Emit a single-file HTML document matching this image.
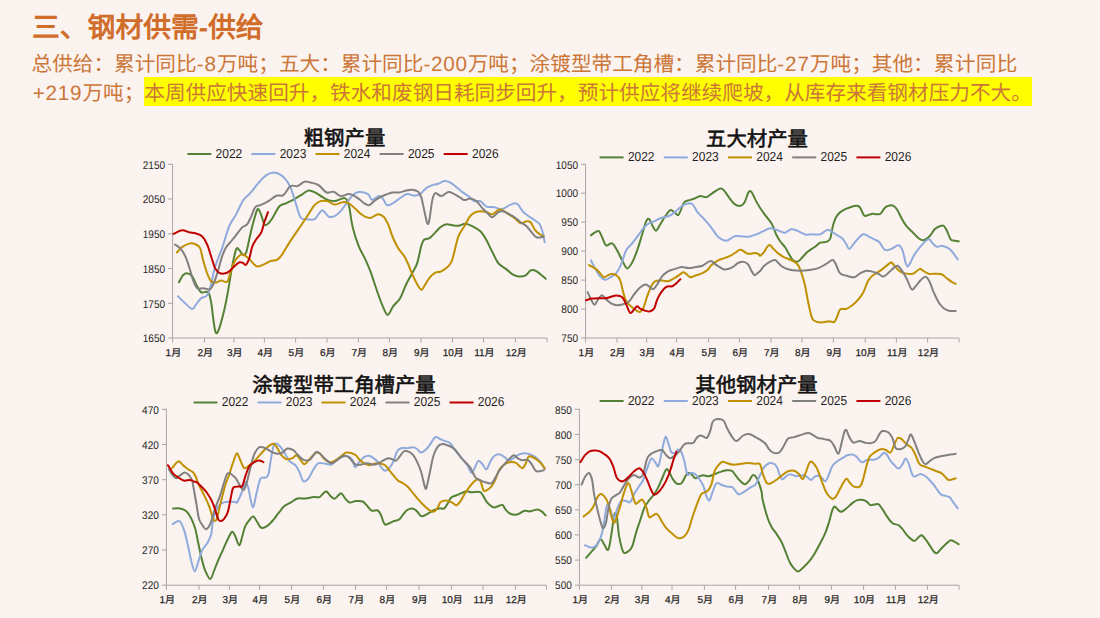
<!DOCTYPE html>
<html lang="zh-CN"><head><meta charset="utf-8"><style>
html,body{margin:0;padding:0}
body{width:1100px;height:618px;overflow:hidden;background:#FBF3EF;position:relative;font-family:"Liberation Sans",sans-serif;text-rendering:geometricPrecision}
.h1{position:absolute;left:32px;top:7.6px;font-size:27.8px;font-weight:bold;color:#D16D2B;white-space:nowrap;line-height:40px}
.p{position:absolute;left:31.5px;top:49.8px;font-size:20.65px;color:#CC7638;white-space:nowrap;line-height:29.4px}
.n1{letter-spacing:1px}.n2{letter-spacing:0.75px}.n3{letter-spacing:0.9px}.n5{letter-spacing:0.35px}.n4{letter-spacing:0.8px;margin-left:1.2px}
.hl{background:#FFFF00;padding:5.2px 0 1.0px 0}
svg{position:absolute;left:0;top:0}
.yl{font-size:11px;fill:#262626;font-family:"Liberation Sans",sans-serif}
.xl{font-size:10px;fill:#262626;stroke:#262626;stroke-width:0.25px;font-family:"Liberation Sans",sans-serif}
.lg{font-size:13px;fill:#1E1E1E;font-family:"Liberation Sans",sans-serif}
.ct{font-size:20.4px;font-weight:normal;fill:#111;stroke:#111;stroke-width:0.6px;font-family:"Liberation Serif",serif}
</style></head><body>
<div class="h1">三、钢材供需-供给</div>
<div class="p">总供给：累计同比<span class="n1">-8</span>万吨；五大：累计同比<span class="n2">-200</span>万吨；涂镀型带工角槽：累计同比<span class="n3">-27</span>万吨；其他：<span class="n5">累计同比</span><br><span class="n4">+219</span>万吨；<span class="hl">本周供应快速回升，铁水和废钢日耗同步回升，预计供应将继续爬坡，从库存来看钢材压力不大。</span></div>
<svg width="1100" height="618" viewBox="0 0 1100 618">
<path d="M172.6,163.8V338.0H547.0" fill="none" stroke="#A6A6A6" stroke-width="1"/>
<path d="M168.1,164.3H172.6" stroke="#A6A6A6" stroke-width="1"/>
<text x="165.1" y="168.5" class="yl" text-anchor="end" textLength="22.4" lengthAdjust="spacingAndGlyphs">2150</text>
<path d="M168.1,199.0H172.6" stroke="#A6A6A6" stroke-width="1"/>
<text x="165.1" y="203.2" class="yl" text-anchor="end" textLength="22.4" lengthAdjust="spacingAndGlyphs">2050</text>
<path d="M168.1,233.8H172.6" stroke="#A6A6A6" stroke-width="1"/>
<text x="165.1" y="238.0" class="yl" text-anchor="end" textLength="22.4" lengthAdjust="spacingAndGlyphs">1950</text>
<path d="M168.1,268.5H172.6" stroke="#A6A6A6" stroke-width="1"/>
<text x="165.1" y="272.7" class="yl" text-anchor="end" textLength="22.4" lengthAdjust="spacingAndGlyphs">1850</text>
<path d="M168.1,303.3H172.6" stroke="#A6A6A6" stroke-width="1"/>
<text x="165.1" y="307.5" class="yl" text-anchor="end" textLength="22.4" lengthAdjust="spacingAndGlyphs">1750</text>
<path d="M168.1,338.0H172.6" stroke="#A6A6A6" stroke-width="1"/>
<text x="165.1" y="342.2" class="yl" text-anchor="end" textLength="22.4" lengthAdjust="spacingAndGlyphs">1650</text>
<path d="M172.6,338.0V342.5" stroke="#A6A6A6" stroke-width="1"/>
<text x="173.4" y="355.8" class="xl" text-anchor="middle">1月</text>
<path d="M204.4,338.0V342.5" stroke="#A6A6A6" stroke-width="1"/>
<text x="205.2" y="355.8" class="xl" text-anchor="middle">2月</text>
<path d="M234.0,338.0V342.5" stroke="#A6A6A6" stroke-width="1"/>
<text x="234.8" y="355.8" class="xl" text-anchor="middle">3月</text>
<path d="M264.4,338.0V342.5" stroke="#A6A6A6" stroke-width="1"/>
<text x="265.2" y="355.8" class="xl" text-anchor="middle">4月</text>
<path d="M295.6,338.0V342.5" stroke="#A6A6A6" stroke-width="1"/>
<text x="296.4" y="355.8" class="xl" text-anchor="middle">5月</text>
<path d="M327.0,338.0V342.5" stroke="#A6A6A6" stroke-width="1"/>
<text x="327.8" y="355.8" class="xl" text-anchor="middle">6月</text>
<path d="M358.4,338.0V342.5" stroke="#A6A6A6" stroke-width="1"/>
<text x="359.2" y="355.8" class="xl" text-anchor="middle">7月</text>
<path d="M389.4,338.0V342.5" stroke="#A6A6A6" stroke-width="1"/>
<text x="390.2" y="355.8" class="xl" text-anchor="middle">8月</text>
<path d="M421.0,338.0V342.5" stroke="#A6A6A6" stroke-width="1"/>
<text x="421.8" y="355.8" class="xl" text-anchor="middle">9月</text>
<path d="M452.4,338.0V342.5" stroke="#A6A6A6" stroke-width="1"/>
<text x="453.2" y="355.8" class="xl" text-anchor="middle">10月</text>
<path d="M483.6,338.0V342.5" stroke="#A6A6A6" stroke-width="1"/>
<text x="484.4" y="355.8" class="xl" text-anchor="middle">11月</text>
<path d="M515.4,338.0V342.5" stroke="#A6A6A6" stroke-width="1"/>
<text x="516.2" y="355.8" class="xl" text-anchor="middle">12月</text>
<path d="M547.0,338.0V342.5" stroke="#A6A6A6" stroke-width="1"/>
<text x="344.5" y="145.0" class="ct" text-anchor="middle">粗钢产量</text>
<path d="M187.3,154.0H211.3" stroke="#548235" stroke-width="2"/>
<text x="215.6" y="157.9" class="lg" textLength="26.6" lengthAdjust="spacingAndGlyphs">2022</text>
<path d="M251.4,154.0H275.4" stroke="#8FAADC" stroke-width="2"/>
<text x="279.7" y="157.9" class="lg" textLength="26.6" lengthAdjust="spacingAndGlyphs">2023</text>
<path d="M315.5,154.0H339.5" stroke="#BF9000" stroke-width="2"/>
<text x="343.8" y="157.9" class="lg" textLength="26.6" lengthAdjust="spacingAndGlyphs">2024</text>
<path d="M379.6,154.0H403.6" stroke="#808080" stroke-width="2"/>
<text x="407.9" y="157.9" class="lg" textLength="26.6" lengthAdjust="spacingAndGlyphs">2025</text>
<path d="M443.7,154.0H467.7" stroke="#C00000" stroke-width="2"/>
<text x="472.0" y="157.9" class="lg" textLength="26.6" lengthAdjust="spacingAndGlyphs">2026</text>
<path d="M179.0,282.2 C179.7,281.0 181.7,276.7 183.0,275.2 C184.4,273.7 185.6,273.0 187.1,273.2 C188.6,273.3 190.6,274.3 192.1,276.2 C193.6,278.0 194.6,281.5 196.1,284.2 C197.6,286.9 199.1,290.9 201.1,292.2 C203.1,293.6 206.5,290.6 208.1,292.2 C209.8,293.9 210.3,297.9 211.1,302.3 C212.0,306.6 212.4,313.2 213.2,318.3 C213.9,323.4 214.8,331.1 215.8,332.8 C216.8,334.4 217.8,332.1 219.2,328.4 C220.6,324.6 222.7,316.6 224.2,310.3 C225.7,303.9 226.9,297.6 228.2,290.2 C229.5,282.9 230.9,273.0 232.2,266.1 C233.6,259.3 235.1,251.7 236.2,249.1 C237.4,246.4 238.1,249.1 239.3,250.1 C240.4,251.1 242.1,254.8 243.3,255.1 C244.4,255.4 245.3,254.8 246.3,252.1 C247.3,249.4 248.3,243.3 249.3,239.0 C250.3,234.7 251.1,230.7 252.3,226.2 C253.5,221.8 255.3,215.0 256.3,212.2 C257.3,209.3 257.5,208.7 258.3,209.2 C259.2,209.7 260.3,212.7 261.3,215.2 C262.3,217.7 263.3,222.7 264.3,224.2 C265.3,225.7 266.0,225.2 267.4,224.2 C268.7,223.2 270.4,221.2 272.4,218.2 C274.4,215.2 277.1,208.7 279.4,206.2 C281.7,203.7 283.9,204.3 286.4,203.2 C288.9,202.0 291.8,200.6 294.5,199.1 C297.1,197.6 300.1,195.6 302.5,194.1 C304.8,192.7 306.5,190.8 308.5,190.5 C310.5,190.2 312.2,191.0 314.5,192.1 C316.9,193.2 320.2,195.8 322.6,197.1 C324.9,198.5 326.6,199.5 328.6,200.1 C330.6,200.8 332.6,201.3 334.6,201.1 C336.6,201.0 338.9,199.6 340.6,199.1 C342.3,198.6 343.5,197.8 344.6,198.1 C345.8,198.5 346.8,199.3 347.6,201.1 C348.5,203.0 348.8,204.8 349.7,209.2 C350.5,213.5 351.2,221.1 352.7,227.2 C354.2,233.4 356.7,240.9 358.7,246.1 C360.7,251.2 362.7,253.8 364.7,258.1 C366.7,262.5 368.7,266.8 370.7,272.2 C372.7,277.5 374.7,284.5 376.8,290.2 C378.8,295.9 380.9,302.2 382.8,306.3 C384.6,310.4 386.0,314.9 387.7,314.9 C389.4,314.9 391.0,309.1 393.1,306.3 C395.2,303.5 398.0,301.9 400.1,298.2 C402.3,294.6 404.2,288.4 406.2,284.2 C408.2,280.0 410.3,276.7 412.2,273.2 C414.0,269.6 415.7,267.6 417.2,263.1 C418.7,258.6 420.1,250.0 421.2,246.1 C422.4,242.1 422.7,241.0 424.2,239.6 C425.7,238.2 427.6,239.7 430.3,237.6 C432.9,235.6 437.6,229.5 440.3,227.2 C443.0,225.0 444.3,224.6 446.3,224.2 C448.3,223.9 450.3,225.0 452.3,225.2 C454.3,225.5 456.2,226.1 458.4,225.8 C460.5,225.6 463.0,223.8 465.4,223.8 C467.7,223.9 469.9,225.0 472.4,226.2 C474.9,227.5 478.1,228.9 480.4,231.3 C482.8,233.6 484.5,236.8 486.5,240.3 C488.5,243.8 490.5,248.5 492.5,252.3 C494.5,256.2 496.2,260.5 498.5,263.4 C500.8,266.2 504.2,267.6 506.5,269.4 C508.9,271.2 510.5,273.2 512.6,274.4 C514.6,275.6 516.4,276.3 518.6,276.4 C520.8,276.6 523.6,276.4 525.6,275.4 C527.6,274.4 528.8,271.1 530.6,270.4 C532.5,269.7 534.1,270.0 536.6,271.4 C539.2,272.8 544.2,277.6 545.7,278.8" fill="none" stroke="#548235" stroke-width="2.0" stroke-linejoin="round" stroke-linecap="round"/>
<path d="M178.0,296.2 C179.0,297.2 181.7,300.2 184.1,302.3 C186.4,304.4 190.1,308.6 192.1,308.9 C194.1,309.2 194.6,306.0 196.1,304.3 C197.6,302.5 199.3,299.8 201.1,298.2 C203.0,296.7 205.5,297.6 207.1,295.2 C208.8,292.9 210.0,288.4 211.1,284.2 C212.3,280.0 213.0,274.5 214.2,270.1 C215.3,265.8 216.8,261.8 218.2,258.1 C219.5,254.4 220.3,253.4 222.2,248.1 C224.0,242.8 226.9,231.9 229.2,226.2 C231.6,220.6 233.9,218.5 236.2,214.2 C238.6,209.8 240.9,203.7 243.3,200.1 C245.6,196.6 247.8,196.0 250.3,193.1 C252.8,190.3 255.6,186.1 258.3,183.1 C261.0,180.1 263.8,176.8 266.4,175.1 C268.9,173.3 271.2,172.6 273.4,172.4 C275.6,172.3 277.4,172.9 279.4,174.1 C281.4,175.2 283.6,176.9 285.4,179.1 C287.3,181.2 288.8,183.3 290.4,187.1 C292.1,190.9 293.8,197.1 295.5,202.2 C297.1,207.2 298.6,214.4 300.5,217.2 C302.3,220.1 304.2,218.9 306.5,219.2 C308.8,219.5 312.5,220.1 314.5,219.2 C316.5,218.4 317.2,215.7 318.5,214.2 C319.9,212.7 320.9,209.8 322.6,210.2 C324.2,210.6 326.6,215.6 328.6,216.6 C330.6,217.6 332.6,217.1 334.6,216.2 C336.6,215.3 338.6,213.4 340.6,211.2 C342.6,209.0 344.6,205.8 346.6,203.2 C348.6,200.5 350.7,197.0 352.7,195.1 C354.7,193.3 356.1,192.3 358.7,192.1 C361.2,191.9 365.8,192.9 368.0,194.1 C370.3,195.4 370.2,199.4 372.0,199.7 C373.9,200.1 377.2,196.2 379.1,196.1 C380.9,196.0 381.7,197.6 383.1,199.1 C384.4,200.6 385.4,204.5 387.1,205.2 C388.8,205.8 390.9,204.3 393.1,203.2 C395.3,202.0 397.8,199.6 400.1,198.1 C402.5,196.6 404.8,194.5 407.2,194.1 C409.5,193.7 412.0,195.7 414.2,195.7 C416.4,195.7 418.2,195.4 420.2,194.1 C422.2,192.9 424.2,189.6 426.2,188.1 C428.2,186.6 430.3,185.8 432.3,185.1 C434.3,184.4 436.3,184.4 438.3,183.7 C440.3,183.0 442.3,181.3 444.3,181.1 C446.3,180.9 448.3,181.5 450.3,182.5 C452.3,183.5 454.3,185.5 456.4,187.1 C458.4,188.7 460.4,190.6 462.4,192.1 C464.4,193.6 466.4,194.6 468.4,196.1 C470.4,197.6 472.4,200.3 474.4,201.1 C476.4,202.0 478.4,200.2 480.4,201.1 C482.4,202.1 484.1,205.6 486.5,206.6 C488.8,207.6 492.1,206.7 494.5,207.2 C496.8,207.6 498.8,209.0 500.5,209.2 C502.2,209.3 502.9,208.9 504.5,208.2 C506.2,207.4 508.7,205.4 510.5,204.6 C512.4,203.7 514.2,203.1 515.6,203.2 C516.9,203.3 517.4,203.8 518.6,205.2 C519.7,206.5 520.9,209.3 522.6,211.2 C524.3,213.0 526.6,214.7 528.6,216.2 C530.6,217.7 532.8,218.9 534.6,220.2 C536.5,221.6 538.3,222.2 539.7,224.2 C541.0,226.2 541.8,229.3 542.7,232.3 C543.5,235.3 544.3,240.6 544.7,242.3" fill="none" stroke="#8FAADC" stroke-width="2.0" stroke-linejoin="round" stroke-linecap="round"/>
<path d="M177.0,252.5 C177.9,251.6 180.0,248.5 182.0,247.1 C184.1,245.6 186.9,244.2 189.1,243.6 C191.2,243.1 193.3,243.3 195.1,244.1 C196.9,244.8 198.8,245.4 200.1,248.1 C201.4,250.7 201.9,255.9 203.1,260.1 C204.3,264.3 205.8,269.6 207.1,273.2 C208.5,276.7 209.6,279.6 211.1,281.2 C212.7,282.8 214.5,282.7 216.2,282.6 C217.8,282.5 219.3,280.7 221.2,280.6 C223.0,280.5 225.7,283.0 227.2,281.8 C228.7,280.6 229.0,276.4 230.2,273.2 C231.4,269.9 232.7,265.0 234.2,262.1 C235.7,259.2 237.7,257.0 239.3,255.7 C240.8,254.4 241.6,253.9 243.3,254.5 C244.9,255.1 247.1,257.2 249.3,259.1 C251.5,261.0 254.1,265.1 256.3,266.1 C258.5,267.1 260.0,266.0 262.3,265.1 C264.7,264.3 267.9,262.0 270.4,261.1 C272.9,260.2 275.4,260.9 277.4,259.7 C279.4,258.5 280.6,256.7 282.4,254.1 C284.2,251.5 285.4,248.7 288.4,244.1 C291.4,239.4 297.1,231.2 300.5,226.2 C303.8,221.3 306.2,217.7 308.5,214.2 C310.8,210.7 312.5,207.3 314.5,205.2 C316.5,203.0 318.4,201.8 320.5,201.1 C322.7,200.5 325.2,200.6 327.6,201.1 C329.9,201.7 332.1,204.4 334.6,204.6 C337.1,204.7 340.3,202.4 342.6,202.2 C345.0,201.9 346.6,202.2 348.6,203.2 C350.7,204.2 352.8,206.5 354.7,208.2 C356.6,209.8 358.3,211.8 360.0,213.2 C361.7,214.6 363.2,215.8 365.0,216.6 C366.9,217.4 368.9,218.2 371.0,217.8 C373.2,217.4 375.9,214.3 378.1,214.2 C380.2,214.1 382.4,215.5 384.1,217.2 C385.8,218.9 386.6,220.8 388.1,224.2 C389.6,227.7 391.4,234.1 393.1,238.0 C394.8,242.0 396.3,245.1 398.1,248.1 C400.0,251.1 402.5,253.4 404.2,256.1 C405.8,258.8 406.8,261.1 408.2,264.1 C409.5,267.1 410.7,270.8 412.2,274.2 C413.7,277.5 415.7,281.6 417.2,284.2 C418.7,286.8 420.1,289.5 421.2,289.8 C422.4,290.2 422.9,288.1 424.2,286.2 C425.6,284.3 427.4,280.5 429.3,278.2 C431.1,275.9 433.4,273.6 435.3,272.6 C437.1,271.5 438.5,272.5 440.3,271.8 C442.1,271.0 444.5,269.7 446.3,268.1 C448.2,266.5 450.0,264.8 451.3,262.1 C452.7,259.4 453.2,256.4 454.3,252.1 C455.5,247.8 456.7,240.6 458.4,236.3 C460.0,232.0 462.5,229.4 464.4,226.2 C466.2,223.1 467.7,219.5 469.4,217.2 C471.1,214.9 472.6,213.6 474.4,212.6 C476.3,211.6 478.4,211.3 480.4,211.2 C482.4,211.1 484.5,211.7 486.5,212.2 C488.5,212.7 490.5,214.6 492.5,214.2 C494.5,213.8 496.8,210.5 498.5,209.8 C500.2,209.1 500.8,209.4 502.5,210.2 C504.2,210.9 506.5,212.9 508.5,214.2 C510.5,215.5 512.6,216.7 514.6,218.2 C516.6,219.7 518.6,222.7 520.6,223.2 C522.6,223.7 524.9,221.4 526.6,221.2 C528.3,221.1 529.3,220.9 530.6,222.2 C532.0,223.6 533.1,227.2 534.6,229.3 C536.1,231.3 538.1,233.1 539.7,234.3 C541.2,235.4 543.0,235.9 543.7,236.3" fill="none" stroke="#BF9000" stroke-width="2.0" stroke-linejoin="round" stroke-linecap="round"/>
<path d="M175.0,244.5 C176.0,245.2 179.2,246.8 181.0,249.1 C182.9,251.3 184.6,254.6 186.1,258.1 C187.6,261.6 188.9,266.5 190.1,270.1 C191.2,273.8 191.9,277.2 193.1,280.2 C194.3,283.2 195.4,286.9 197.1,288.2 C198.8,289.5 200.9,288.0 203.1,288.2 C205.3,288.4 208.3,290.2 210.1,289.2 C212.0,288.2 212.8,285.4 214.2,282.2 C215.5,279.0 216.8,274.5 218.2,270.1 C219.5,265.8 220.9,259.9 222.2,256.1 C223.5,252.2 224.5,249.7 226.2,247.1 C227.9,244.4 230.2,242.5 232.2,240.0 C234.2,237.6 236.6,234.4 238.2,232.3 C239.9,230.1 240.8,228.6 242.3,227.2 C243.8,225.9 245.8,226.1 247.3,224.2 C248.8,222.4 250.0,219.0 251.3,216.2 C252.6,213.4 253.8,209.0 255.3,207.2 C256.8,205.3 258.2,206.2 260.3,205.2 C262.5,204.2 265.7,202.7 268.4,201.1 C271.0,199.6 273.9,196.7 276.4,195.7 C278.9,194.7 281.1,196.7 283.4,195.1 C285.8,193.5 288.1,187.6 290.4,186.1 C292.8,184.6 295.1,186.8 297.5,186.1 C299.8,185.4 302.3,182.3 304.5,181.7 C306.7,181.1 308.2,181.9 310.5,182.5 C312.9,183.1 315.9,183.4 318.5,185.1 C321.2,186.8 324.1,191.4 326.6,192.5 C329.1,193.6 331.3,191.1 333.6,191.7 C335.9,192.3 338.1,195.7 340.6,196.1 C343.1,196.5 346.3,194.1 348.6,194.1 C351.0,194.1 352.8,195.2 354.7,196.1 C356.6,197.1 358.4,198.6 360.0,199.7 C361.6,200.9 362.5,202.3 364.0,203.2 C365.5,204.1 367.4,205.5 369.0,205.2 C370.7,204.8 372.2,202.5 374.1,201.1 C375.9,199.8 378.1,198.2 380.1,197.1 C382.1,196.0 384.1,195.3 386.1,194.5 C388.1,193.8 389.9,192.9 392.1,192.5 C394.3,192.2 396.8,192.9 399.1,192.5 C401.5,192.2 404.0,191.0 406.2,190.5 C408.3,190.0 410.2,189.5 412.2,189.7 C414.2,189.9 416.7,190.5 418.2,191.7 C419.7,193.0 420.2,194.1 421.2,197.1 C422.2,200.2 423.2,205.8 424.2,210.2 C425.2,214.5 426.4,221.6 427.2,223.2 C428.1,224.9 428.4,224.1 429.3,220.2 C430.1,216.4 431.3,204.7 432.3,200.1 C433.3,195.6 433.8,193.8 435.3,193.1 C436.8,192.5 439.1,196.3 441.3,196.1 C443.5,196.0 446.1,192.5 448.3,192.1 C450.5,191.8 452.3,193.2 454.3,194.1 C456.4,195.1 458.7,196.7 460.4,197.7 C462.0,198.7 462.7,200.0 464.4,200.1 C466.1,200.3 468.4,198.4 470.4,198.5 C472.4,198.7 474.4,199.5 476.4,201.1 C478.4,202.8 480.4,206.0 482.4,208.2 C484.5,210.3 486.8,212.7 488.5,214.2 C490.1,215.7 490.8,217.5 492.5,217.2 C494.2,216.9 496.8,213.2 498.5,212.2 C500.2,211.2 500.8,210.9 502.5,211.2 C504.2,211.5 506.5,212.8 508.5,213.8 C510.5,214.8 512.6,215.8 514.6,217.2 C516.6,218.6 518.6,220.7 520.6,222.2 C522.6,223.7 524.8,224.6 526.6,226.2 C528.4,227.9 530.0,230.4 531.6,232.3 C533.3,234.1 534.6,236.5 536.6,237.3 C538.6,238.0 542.5,236.8 543.7,236.7" fill="none" stroke="#808080" stroke-width="2.0" stroke-linejoin="round" stroke-linecap="round"/>
<path d="M173.6,233.9 C175.0,233.3 179.5,230.5 182.0,230.3 C184.6,230.0 186.7,231.7 189.1,232.3 C191.4,232.8 193.9,232.8 196.1,233.5 C198.3,234.1 200.3,234.5 202.1,236.3 C204.0,238.1 205.6,241.0 207.1,244.3 C208.6,247.7 209.8,252.3 211.1,256.4 C212.5,260.4 213.8,265.7 215.2,268.4 C216.5,271.1 217.7,271.9 219.2,272.8 C220.7,273.7 222.5,273.8 224.2,273.6 C225.9,273.4 227.5,272.6 229.2,271.4 C230.9,270.2 232.6,267.9 234.2,266.4 C235.9,264.9 237.8,263.0 239.3,262.4 C240.7,261.8 241.6,262.4 242.7,262.8 C243.8,263.2 244.8,265.5 245.9,264.8 C247.0,264.0 248.2,261.4 249.3,258.4 C250.4,255.3 251.1,249.5 252.3,246.3 C253.5,243.1 254.8,241.6 256.3,239.3 C257.8,236.9 260.0,235.1 261.3,232.3 C262.7,229.4 263.2,225.6 264.3,222.2 C265.4,218.9 267.4,213.9 268.0,212.2" fill="none" stroke="#C00000" stroke-width="2.0" stroke-linejoin="round" stroke-linecap="round"/>
<path d="M585.6,163.8V338.0H959.0" fill="none" stroke="#A6A6A6" stroke-width="1"/>
<path d="M581.1,164.3H585.6" stroke="#A6A6A6" stroke-width="1"/>
<text x="578.1" y="168.5" class="yl" text-anchor="end" textLength="22.4" lengthAdjust="spacingAndGlyphs">1050</text>
<path d="M581.1,193.2H585.6" stroke="#A6A6A6" stroke-width="1"/>
<text x="578.1" y="197.4" class="yl" text-anchor="end" textLength="22.4" lengthAdjust="spacingAndGlyphs">1000</text>
<path d="M581.1,222.2H585.6" stroke="#A6A6A6" stroke-width="1"/>
<text x="578.1" y="226.4" class="yl" text-anchor="end" textLength="16.8" lengthAdjust="spacingAndGlyphs">950</text>
<path d="M581.1,251.1H585.6" stroke="#A6A6A6" stroke-width="1"/>
<text x="578.1" y="255.3" class="yl" text-anchor="end" textLength="16.8" lengthAdjust="spacingAndGlyphs">900</text>
<path d="M581.1,280.1H585.6" stroke="#A6A6A6" stroke-width="1"/>
<text x="578.1" y="284.3" class="yl" text-anchor="end" textLength="16.8" lengthAdjust="spacingAndGlyphs">850</text>
<path d="M581.1,309.1H585.6" stroke="#A6A6A6" stroke-width="1"/>
<text x="578.1" y="313.2" class="yl" text-anchor="end" textLength="16.8" lengthAdjust="spacingAndGlyphs">800</text>
<path d="M581.1,338.0H585.6" stroke="#A6A6A6" stroke-width="1"/>
<text x="578.1" y="342.2" class="yl" text-anchor="end" textLength="16.8" lengthAdjust="spacingAndGlyphs">750</text>
<path d="M585.6,338.0V342.5" stroke="#A6A6A6" stroke-width="1"/>
<text x="586.4" y="355.8" class="xl" text-anchor="middle">1月</text>
<path d="M617.0,338.0V342.5" stroke="#A6A6A6" stroke-width="1"/>
<text x="617.8" y="355.8" class="xl" text-anchor="middle">2月</text>
<path d="M646.6,338.0V342.5" stroke="#A6A6A6" stroke-width="1"/>
<text x="647.4" y="355.8" class="xl" text-anchor="middle">3月</text>
<path d="M676.6,338.0V342.5" stroke="#A6A6A6" stroke-width="1"/>
<text x="677.4" y="355.8" class="xl" text-anchor="middle">4月</text>
<path d="M708.6,338.0V342.5" stroke="#A6A6A6" stroke-width="1"/>
<text x="709.4" y="355.8" class="xl" text-anchor="middle">5月</text>
<path d="M739.4,338.0V342.5" stroke="#A6A6A6" stroke-width="1"/>
<text x="740.2" y="355.8" class="xl" text-anchor="middle">6月</text>
<path d="M771.0,338.0V342.5" stroke="#A6A6A6" stroke-width="1"/>
<text x="771.8" y="355.8" class="xl" text-anchor="middle">7月</text>
<path d="M802.0,338.0V342.5" stroke="#A6A6A6" stroke-width="1"/>
<text x="802.8" y="355.8" class="xl" text-anchor="middle">8月</text>
<path d="M833.4,338.0V342.5" stroke="#A6A6A6" stroke-width="1"/>
<text x="834.2" y="355.8" class="xl" text-anchor="middle">9月</text>
<path d="M865.2,338.0V342.5" stroke="#A6A6A6" stroke-width="1"/>
<text x="866.0" y="355.8" class="xl" text-anchor="middle">10月</text>
<path d="M896.4,338.0V342.5" stroke="#A6A6A6" stroke-width="1"/>
<text x="897.2" y="355.8" class="xl" text-anchor="middle">11月</text>
<path d="M927.6,338.0V342.5" stroke="#A6A6A6" stroke-width="1"/>
<text x="928.4" y="355.8" class="xl" text-anchor="middle">12月</text>
<path d="M959.0,338.0V342.5" stroke="#A6A6A6" stroke-width="1"/>
<text x="757.0" y="145.5" class="ct" text-anchor="middle">五大材产量</text>
<path d="M599.6,157.4H623.6" stroke="#548235" stroke-width="2"/>
<text x="627.9" y="161.3" class="lg" textLength="26.6" lengthAdjust="spacingAndGlyphs">2022</text>
<path d="M663.8,157.4H687.8" stroke="#8FAADC" stroke-width="2"/>
<text x="692.1" y="161.3" class="lg" textLength="26.6" lengthAdjust="spacingAndGlyphs">2023</text>
<path d="M728.0,157.4H752.0" stroke="#BF9000" stroke-width="2"/>
<text x="756.3" y="161.3" class="lg" textLength="26.6" lengthAdjust="spacingAndGlyphs">2024</text>
<path d="M792.2,157.4H816.2" stroke="#808080" stroke-width="2"/>
<text x="820.5" y="161.3" class="lg" textLength="26.6" lengthAdjust="spacingAndGlyphs">2025</text>
<path d="M856.4,157.4H880.4" stroke="#C00000" stroke-width="2"/>
<text x="884.7" y="161.3" class="lg" textLength="26.6" lengthAdjust="spacingAndGlyphs">2026</text>
<path d="M591.0,235.3 C591.7,234.8 593.7,232.9 595.1,232.3 C596.4,231.6 597.9,230.4 599.1,231.3 C600.2,232.1 600.9,234.9 602.1,237.3 C603.3,239.6 604.4,244.3 606.1,245.3 C607.8,246.3 610.3,242.5 612.1,243.3 C614.0,244.1 615.5,247.5 617.1,250.3 C618.8,253.2 620.5,257.4 622.2,260.4 C623.8,263.4 625.5,268.1 627.2,268.4 C628.8,268.7 630.5,265.4 632.2,262.4 C633.9,259.4 635.5,255.0 637.2,250.3 C638.9,245.6 640.7,239.1 642.2,234.3 C643.7,229.4 645.1,223.7 646.2,221.2 C647.4,218.7 648.1,218.2 649.3,219.2 C650.4,220.2 652.1,225.3 653.3,227.2 C654.4,229.2 655.1,231.2 656.3,230.7 C657.4,230.2 658.8,226.6 660.3,224.2 C661.8,221.8 663.6,218.5 665.3,216.2 C667.0,213.9 668.8,210.9 670.3,210.2 C671.8,209.5 673.1,211.4 674.3,212.2 C675.6,213.0 677.0,215.4 678.0,215.2 C679.0,215.0 679.3,213.4 680.4,211.2 C681.4,209.0 682.9,204.0 684.4,202.2 C685.9,200.3 687.7,200.7 689.4,200.1 C691.1,199.5 692.6,199.2 694.4,198.5 C696.3,197.9 698.4,196.4 700.4,196.1 C702.4,195.9 704.5,197.6 706.5,197.1 C708.5,196.6 710.1,194.6 712.5,193.1 C714.8,191.7 718.5,188.8 720.5,188.5 C722.5,188.2 723.0,189.5 724.5,191.1 C726.0,192.7 727.9,196.0 729.5,198.1 C731.2,200.3 732.7,202.9 734.6,204.2 C736.4,205.4 738.9,206.1 740.6,205.8 C742.3,205.4 743.3,204.4 744.6,202.2 C745.9,199.9 747.4,193.8 748.6,192.1 C749.8,190.4 750.5,190.8 751.6,192.1 C752.8,193.5 754.2,197.5 755.6,200.1 C757.0,202.8 758.3,205.1 760.0,207.8 C761.7,210.5 764.0,213.5 766.0,216.2 C768.0,218.9 770.4,221.2 772.0,224.2 C773.7,227.2 774.7,231.4 776.1,234.3 C777.4,237.1 778.6,239.1 780.1,241.3 C781.6,243.5 783.6,245.1 785.1,247.3 C786.6,249.5 787.8,252.2 789.1,254.3 C790.4,256.5 791.6,259.2 793.1,260.4 C794.6,261.5 796.5,262.0 798.1,261.4 C799.8,260.7 801.5,258.0 803.2,256.4 C804.8,254.7 806.3,252.8 808.2,251.3 C810.0,249.8 812.2,248.8 814.2,247.3 C816.2,245.9 818.2,243.6 820.2,242.7 C822.2,241.8 824.6,242.6 826.2,241.9 C827.9,241.2 829.1,241.2 830.3,238.3 C831.4,235.3 832.1,228.1 833.3,224.2 C834.4,220.4 835.6,217.5 837.3,215.2 C839.0,212.9 841.1,211.5 843.3,210.2 C845.5,208.8 848.0,207.9 850.3,207.2 C852.7,206.4 855.7,205.6 857.4,205.8 C859.0,205.9 859.2,206.5 860.4,208.2 C861.5,209.8 862.9,214.7 864.4,215.8 C865.9,216.9 868.1,214.9 869.4,214.6 C870.7,214.3 871.2,213.9 872.4,213.8 C873.6,213.7 875.1,214.2 876.4,214.2 C877.8,214.2 879.1,214.8 880.4,213.8 C881.8,212.8 883.1,209.5 884.5,208.2 C885.8,206.8 887.0,206.2 888.5,205.8 C890.0,205.4 892.0,205.0 893.5,205.8 C895.0,206.5 896.2,208.1 897.5,210.2 C898.8,212.3 900.0,215.5 901.5,218.2 C903.0,220.9 904.7,223.9 906.5,226.2 C908.4,228.6 910.5,230.3 912.6,232.3 C914.6,234.3 916.7,236.9 918.6,238.3 C920.4,239.6 921.8,240.6 923.6,240.3 C925.4,240.0 927.8,238.1 929.6,236.3 C931.5,234.4 933.0,230.9 934.6,229.3 C936.3,227.6 938.1,226.8 939.7,226.2 C941.2,225.7 942.5,225.2 943.7,225.8 C944.8,226.5 945.5,228.0 946.7,230.3 C947.8,232.5 949.4,237.5 950.7,239.3 C952.0,241.0 953.4,240.4 954.7,240.7 C956.0,241.0 958.1,241.2 958.7,241.3" fill="none" stroke="#548235" stroke-width="2.0" stroke-linejoin="round" stroke-linecap="round"/>
<path d="M591.0,260.4 C591.7,261.7 593.5,265.7 595.1,268.4 C596.6,271.1 598.4,274.5 600.1,276.4 C601.7,278.3 603.4,279.7 605.1,279.8 C606.8,280.0 608.3,278.5 610.1,277.4 C611.9,276.4 614.3,275.6 616.1,273.4 C618.0,271.2 619.5,268.2 621.1,264.4 C622.8,260.5 624.3,253.8 626.2,250.3 C628.0,246.8 630.2,245.8 632.2,243.3 C634.2,240.8 636.2,238.0 638.2,235.3 C640.2,232.6 642.4,229.3 644.2,227.2 C646.1,225.2 647.6,224.2 649.3,223.2 C650.9,222.2 652.4,222.1 654.3,221.2 C656.1,220.4 658.0,219.0 660.3,218.2 C662.6,217.4 666.0,217.1 668.3,216.2 C670.7,215.3 672.3,214.1 674.3,212.6 C676.4,211.1 678.4,208.6 680.4,207.2 C682.4,205.7 684.4,204.3 686.4,203.8 C688.4,203.3 690.6,202.8 692.4,204.2 C694.2,205.6 695.6,209.8 697.4,212.2 C699.3,214.5 701.6,216.2 703.4,218.2 C705.3,220.2 707.0,222.4 708.5,224.2 C710.0,226.1 710.8,227.1 712.5,229.3 C714.2,231.4 716.2,235.4 718.5,237.3 C720.8,239.2 723.9,240.9 726.5,240.7 C729.2,240.5 732.2,237.0 734.6,236.3 C736.9,235.5 738.2,236.2 740.6,236.3 C742.9,236.3 745.9,237.0 748.6,236.7 C751.3,236.3 754.7,234.9 756.6,234.3 C758.5,233.6 758.6,233.3 760.0,232.7 C761.4,232.0 763.3,231.0 765.0,230.3 C766.7,229.5 768.4,228.4 770.0,228.2 C771.7,228.1 773.4,228.8 775.1,229.3 C776.7,229.8 778.4,230.7 780.1,231.3 C781.7,231.8 783.3,233.0 785.1,232.7 C786.9,232.3 789.3,229.7 791.1,229.3 C793.0,228.9 794.5,229.7 796.1,230.3 C797.8,230.8 799.5,231.9 801.1,232.7 C802.8,233.4 804.3,234.4 806.2,234.7 C808.0,234.9 809.8,234.3 812.2,234.3 C814.5,234.2 817.7,235.0 820.2,234.3 C822.7,233.5 825.4,230.4 827.2,229.9 C829.1,229.4 829.8,230.5 831.3,231.3 C832.8,232.1 834.4,233.5 836.3,234.7 C838.1,235.8 840.6,236.7 842.3,238.3 C844.0,239.9 845.1,242.5 846.3,244.3 C847.5,246.1 848.2,248.9 849.3,248.9 C850.5,248.9 851.8,246.1 853.3,244.3 C854.8,242.5 856.7,240.0 858.4,238.3 C860.0,236.6 861.7,234.6 863.4,234.3 C865.0,233.9 866.6,235.4 868.4,236.3 C870.2,237.1 872.6,238.3 874.4,239.3 C876.3,240.3 877.9,240.8 879.4,242.3 C880.9,243.8 882.3,247.0 883.4,248.3 C884.6,249.7 885.0,250.3 886.5,250.3 C888.0,250.3 890.5,249.2 892.5,248.3 C894.5,247.5 896.8,245.0 898.5,245.3 C900.2,245.6 901.3,247.5 902.5,250.3 C903.7,253.2 904.7,259.7 905.5,262.4 C906.4,265.0 906.7,266.4 907.5,266.4 C908.4,266.4 909.4,264.4 910.5,262.4 C911.7,260.4 912.9,257.0 914.6,254.3 C916.2,251.7 918.6,248.7 920.6,246.3 C922.6,244.0 925.1,241.5 926.6,240.3 C928.1,239.1 928.6,238.8 929.6,239.3 C930.6,239.8 931.5,242.1 932.6,243.3 C933.8,244.5 935.0,246.3 936.6,246.7 C938.3,247.2 940.7,245.6 942.7,245.9 C944.7,246.2 947.0,247.3 948.7,248.3 C950.4,249.4 951.2,250.5 952.7,252.3 C954.2,254.2 956.9,258.2 957.7,259.4" fill="none" stroke="#8FAADC" stroke-width="2.0" stroke-linejoin="round" stroke-linecap="round"/>
<path d="M589.0,265.1 C590.2,265.8 594.2,267.8 596.1,269.1 C597.9,270.5 598.7,271.8 600.1,273.2 C601.4,274.5 602.4,277.0 604.1,277.2 C605.8,277.3 608.1,274.5 610.1,274.2 C612.1,273.8 614.5,274.2 616.1,275.2 C617.8,276.2 619.0,277.3 620.1,280.2 C621.3,283.0 622.2,288.7 623.2,292.2 C624.2,295.7 624.7,298.8 626.2,301.3 C627.7,303.8 630.0,305.5 632.2,307.3 C634.4,309.1 637.4,311.7 639.2,311.9 C641.1,312.1 641.9,310.9 643.2,308.3 C644.6,305.7 645.9,299.9 647.2,296.2 C648.6,292.6 649.9,288.7 651.3,286.2 C652.6,283.7 653.4,282.1 655.3,281.2 C657.1,280.2 660.1,280.6 662.3,280.6 C664.5,280.6 666.3,281.6 668.3,281.2 C670.3,280.8 672.3,279.3 674.3,278.2 C676.4,277.0 678.9,275.2 680.4,274.2 C681.9,273.2 682.4,272.2 683.4,272.2 C684.4,272.2 685.2,273.3 686.4,274.2 C687.6,275.0 688.7,277.0 690.4,277.2 C692.1,277.3 694.4,275.8 696.4,275.2 C698.4,274.5 700.6,274.0 702.4,273.2 C704.3,272.3 706.0,271.5 707.5,270.1 C709.0,268.8 709.6,266.8 711.5,265.1 C713.3,263.5 716.3,261.3 718.5,260.1 C720.7,258.9 722.5,258.8 724.5,258.1 C726.5,257.4 728.7,256.6 730.5,255.7 C732.4,254.8 733.9,253.5 735.6,252.5 C737.2,251.5 738.6,249.5 740.6,249.7 C742.6,249.9 745.3,253.1 747.6,253.7 C750.0,254.3 752.8,253.0 754.6,253.1 C756.5,253.2 757.8,253.7 758.6,254.1 C759.5,254.5 759.1,256.0 760.0,255.7 C760.9,255.4 762.8,253.5 764.0,252.1 C765.2,250.6 766.0,248.2 767.0,247.1 C768.0,245.9 769.0,244.8 770.0,245.1 C771.0,245.3 771.9,247.2 773.0,248.5 C774.2,249.7 775.6,251.2 777.1,252.5 C778.6,253.8 780.4,255.1 782.1,256.1 C783.8,257.1 785.3,257.7 787.1,258.5 C788.9,259.3 791.3,260.0 793.1,261.1 C795.0,262.2 796.6,262.8 798.1,265.1 C799.6,267.5 801.0,271.7 802.2,275.2 C803.3,278.7 804.2,281.7 805.2,286.2 C806.2,290.7 807.0,296.9 808.2,302.3 C809.3,307.6 810.7,315.0 812.2,318.3 C813.7,321.6 815.4,321.3 817.2,321.9 C819.0,322.6 821.2,322.4 823.2,322.3 C825.2,322.2 827.4,321.4 829.3,321.3 C831.1,321.3 832.9,322.8 834.3,321.9 C835.6,321.1 836.3,318.4 837.3,316.3 C838.3,314.2 838.8,310.5 840.3,309.3 C841.8,308.1 844.3,309.6 846.3,308.9 C848.3,308.2 850.3,306.9 852.3,305.3 C854.3,303.7 856.5,301.4 858.4,299.3 C860.2,297.1 861.9,295.1 863.4,292.2 C864.9,289.4 866.1,284.8 867.4,282.2 C868.7,279.6 869.9,278.1 871.4,276.6 C872.9,275.1 874.6,274.4 876.4,273.2 C878.3,271.9 880.4,270.6 882.4,269.1 C884.5,267.6 887.0,265.2 888.5,264.1 C890.0,263.0 890.3,262.0 891.5,262.5 C892.6,263.0 894.2,265.7 895.5,267.1 C896.8,268.6 898.0,270.1 899.5,271.1 C901.0,272.2 902.4,272.7 904.5,273.2 C906.7,273.6 910.0,274.4 912.6,273.8 C915.1,273.1 917.7,269.6 919.6,269.1 C921.4,268.7 922.1,270.4 923.6,271.1 C925.1,271.9 926.8,273.3 928.6,273.8 C930.5,274.2 932.5,273.7 934.6,273.8 C936.8,273.8 939.7,273.4 941.7,274.2 C943.7,274.9 945.0,276.9 946.7,278.2 C948.4,279.4 950.2,280.9 951.7,281.8 C953.2,282.7 955.0,283.5 955.7,283.8" fill="none" stroke="#BF9000" stroke-width="2.0" stroke-linejoin="round" stroke-linecap="round"/>
<path d="M587.6,292.2 C588.2,293.4 589.9,297.2 591.0,299.3 C592.2,301.3 593.3,304.7 594.5,304.7 C595.6,304.7 596.8,300.8 598.1,299.3 C599.3,297.7 600.7,295.2 602.1,295.2 C603.4,295.2 604.6,297.9 606.1,299.3 C607.6,300.6 609.3,302.3 611.1,303.3 C613.0,304.3 615.0,305.2 617.1,305.3 C619.3,305.4 622.2,304.5 624.2,303.9 C626.2,303.2 627.5,302.9 629.2,301.3 C630.9,299.7 632.5,296.4 634.2,294.2 C635.9,292.1 637.4,289.8 639.2,288.2 C641.1,286.6 643.6,284.9 645.2,284.6 C646.9,284.3 647.9,285.8 649.3,286.6 C650.6,287.4 651.9,289.6 653.3,289.2 C654.6,288.8 655.8,286.4 657.3,284.2 C658.8,282.0 660.5,278.3 662.3,276.2 C664.1,274.0 666.3,272.3 668.3,271.1 C670.3,270.0 672.2,269.8 674.3,269.1 C676.5,268.5 679.0,267.3 681.4,267.1 C683.7,267.0 686.1,268.1 688.4,268.1 C690.7,268.1 693.1,267.5 695.4,267.1 C697.8,266.7 699.9,266.7 702.4,265.7 C705.0,264.7 708.1,261.2 710.5,261.1 C712.8,261.0 714.2,263.7 716.5,265.1 C718.8,266.5 721.8,269.2 724.5,269.5 C727.2,269.9 730.2,268.3 732.6,267.1 C734.9,266.0 736.6,263.6 738.6,262.7 C740.6,261.9 742.9,261.7 744.6,262.1 C746.3,262.5 747.4,263.6 748.6,265.1 C749.8,266.6 750.6,269.5 751.6,271.1 C752.6,272.8 753.5,275.0 754.6,275.2 C755.8,275.3 757.8,272.8 758.6,272.2 C759.5,271.5 759.1,272.2 760.0,271.1 C760.9,270.1 762.3,267.7 764.0,266.1 C765.7,264.6 768.2,262.7 770.0,261.7 C771.9,260.7 773.5,259.8 775.1,260.1 C776.6,260.4 777.7,262.6 779.1,263.7 C780.4,264.9 781.4,266.2 783.1,267.1 C784.8,268.1 786.9,269.0 789.1,269.5 C791.3,270.1 793.6,270.4 796.1,270.5 C798.6,270.7 801.7,270.7 804.2,270.5 C806.7,270.4 808.8,270.1 811.2,269.7 C813.5,269.3 815.9,269.0 818.2,268.1 C820.6,267.3 822.9,265.9 825.2,264.5 C827.6,263.2 830.6,260.3 832.3,260.1 C833.9,259.9 834.1,261.1 835.3,263.1 C836.4,265.1 838.1,270.2 839.3,272.2 C840.5,274.1 840.8,273.9 842.3,274.6 C843.8,275.2 846.3,275.7 848.3,276.2 C850.3,276.6 852.3,277.7 854.3,277.2 C856.4,276.7 858.4,274.2 860.4,273.2 C862.4,272.1 864.4,271.0 866.4,270.7 C868.4,270.5 870.4,271.0 872.4,271.6 C874.4,272.1 876.6,272.9 878.4,273.8 C880.3,274.6 881.8,276.7 883.4,276.6 C885.1,276.4 886.8,274.2 888.5,272.8 C890.1,271.4 892.0,269.3 893.5,268.1 C895.0,267.0 896.2,265.4 897.5,265.7 C898.8,266.1 900.0,268.1 901.5,270.1 C903.0,272.2 904.9,275.0 906.5,278.2 C908.2,281.4 910.0,287.9 911.6,289.2 C913.1,290.6 914.1,287.7 915.6,286.2 C917.1,284.7 918.9,281.8 920.6,280.2 C922.3,278.6 924.1,276.5 925.6,276.8 C927.1,277.0 928.3,279.2 929.6,281.8 C931.0,284.4 932.1,288.8 933.6,292.2 C935.1,295.6 937.0,299.6 938.6,302.3 C940.3,304.9 941.8,306.8 943.7,308.3 C945.5,309.7 947.7,310.5 949.7,310.9 C951.7,311.3 954.7,310.9 955.7,310.9" fill="none" stroke="#808080" stroke-width="2.0" stroke-linejoin="round" stroke-linecap="round"/>
<path d="M586.0,300.3 C587.0,300.0 589.9,299.0 592.0,298.6 C594.2,298.3 596.7,298.3 599.1,298.2 C601.4,298.2 604.1,298.5 606.1,298.2 C608.1,298.0 609.4,297.3 611.1,296.8 C612.8,296.4 614.3,295.6 616.1,295.6 C618.0,295.7 620.5,295.8 622.2,297.2 C623.8,298.7 624.8,301.7 626.2,304.3 C627.5,306.9 628.8,312.1 630.2,312.9 C631.5,313.7 633.0,310.4 634.2,309.3 C635.4,308.2 636.2,306.4 637.2,306.3 C638.2,306.2 638.9,308.0 640.2,308.7 C641.6,309.4 643.6,310.3 645.2,310.7 C646.9,311.1 648.8,311.7 650.3,311.3 C651.8,310.9 653.1,310.3 654.3,308.3 C655.4,306.3 656.1,301.9 657.3,299.3 C658.5,296.6 659.8,294.3 661.3,292.2 C662.8,290.2 664.5,287.8 666.3,286.8 C668.2,285.8 670.7,286.8 672.3,286.2 C674.0,285.6 675.0,284.4 676.4,283.2 C677.7,282.0 679.7,279.8 680.4,279.2" fill="none" stroke="#C00000" stroke-width="2.0" stroke-linejoin="round" stroke-linecap="round"/>
<path d="M166.4,408.8V585.2H546.4" fill="none" stroke="#A6A6A6" stroke-width="1"/>
<path d="M161.9,409.3H166.4" stroke="#A6A6A6" stroke-width="1"/>
<text x="158.9" y="413.5" class="yl" text-anchor="end" textLength="16.8" lengthAdjust="spacingAndGlyphs">470</text>
<path d="M161.9,444.5H166.4" stroke="#A6A6A6" stroke-width="1"/>
<text x="158.9" y="448.7" class="yl" text-anchor="end" textLength="16.8" lengthAdjust="spacingAndGlyphs">420</text>
<path d="M161.9,479.7H166.4" stroke="#A6A6A6" stroke-width="1"/>
<text x="158.9" y="483.9" class="yl" text-anchor="end" textLength="16.8" lengthAdjust="spacingAndGlyphs">370</text>
<path d="M161.9,514.8H166.4" stroke="#A6A6A6" stroke-width="1"/>
<text x="158.9" y="519.0" class="yl" text-anchor="end" textLength="16.8" lengthAdjust="spacingAndGlyphs">320</text>
<path d="M161.9,550.0H166.4" stroke="#A6A6A6" stroke-width="1"/>
<text x="158.9" y="554.2" class="yl" text-anchor="end" textLength="16.8" lengthAdjust="spacingAndGlyphs">270</text>
<path d="M161.9,585.2H166.4" stroke="#A6A6A6" stroke-width="1"/>
<text x="158.9" y="589.4" class="yl" text-anchor="end" textLength="16.8" lengthAdjust="spacingAndGlyphs">220</text>
<path d="M166.4,585.2V589.7" stroke="#A6A6A6" stroke-width="1"/>
<text x="167.2" y="603.0" class="xl" text-anchor="middle">1月</text>
<path d="M199.0,585.2V589.7" stroke="#A6A6A6" stroke-width="1"/>
<text x="199.8" y="603.0" class="xl" text-anchor="middle">2月</text>
<path d="M229.4,585.2V589.7" stroke="#A6A6A6" stroke-width="1"/>
<text x="230.2" y="603.0" class="xl" text-anchor="middle">3月</text>
<path d="M259.6,585.2V589.7" stroke="#A6A6A6" stroke-width="1"/>
<text x="260.4" y="603.0" class="xl" text-anchor="middle">4月</text>
<path d="M291.6,585.2V589.7" stroke="#A6A6A6" stroke-width="1"/>
<text x="292.4" y="603.0" class="xl" text-anchor="middle">5月</text>
<path d="M323.4,585.2V589.7" stroke="#A6A6A6" stroke-width="1"/>
<text x="324.2" y="603.0" class="xl" text-anchor="middle">6月</text>
<path d="M355.6,585.2V589.7" stroke="#A6A6A6" stroke-width="1"/>
<text x="356.4" y="603.0" class="xl" text-anchor="middle">7月</text>
<path d="M386.6,585.2V589.7" stroke="#A6A6A6" stroke-width="1"/>
<text x="387.4" y="603.0" class="xl" text-anchor="middle">8月</text>
<path d="M419.0,585.2V589.7" stroke="#A6A6A6" stroke-width="1"/>
<text x="419.8" y="603.0" class="xl" text-anchor="middle">9月</text>
<path d="M451.4,585.2V589.7" stroke="#A6A6A6" stroke-width="1"/>
<text x="452.2" y="603.0" class="xl" text-anchor="middle">10月</text>
<path d="M483.0,585.2V589.7" stroke="#A6A6A6" stroke-width="1"/>
<text x="483.8" y="603.0" class="xl" text-anchor="middle">11月</text>
<path d="M515.4,585.2V589.7" stroke="#A6A6A6" stroke-width="1"/>
<text x="516.2" y="603.0" class="xl" text-anchor="middle">12月</text>
<path d="M546.4,585.2V589.7" stroke="#A6A6A6" stroke-width="1"/>
<text x="344.0" y="392.0" class="ct" text-anchor="middle">涂镀型带工角槽产量</text>
<path d="M193.5,402.5H217.5" stroke="#548235" stroke-width="2"/>
<text x="221.8" y="406.4" class="lg" textLength="26.6" lengthAdjust="spacingAndGlyphs">2022</text>
<path d="M257.5,402.5H281.5" stroke="#8FAADC" stroke-width="2"/>
<text x="285.8" y="406.4" class="lg" textLength="26.6" lengthAdjust="spacingAndGlyphs">2023</text>
<path d="M321.5,402.5H345.5" stroke="#BF9000" stroke-width="2"/>
<text x="349.8" y="406.4" class="lg" textLength="26.6" lengthAdjust="spacingAndGlyphs">2024</text>
<path d="M385.5,402.5H409.5" stroke="#808080" stroke-width="2"/>
<text x="413.8" y="406.4" class="lg" textLength="26.6" lengthAdjust="spacingAndGlyphs">2025</text>
<path d="M449.5,402.5H473.5" stroke="#C00000" stroke-width="2"/>
<text x="477.8" y="406.4" class="lg" textLength="26.6" lengthAdjust="spacingAndGlyphs">2026</text>
<path d="M173.0,508.5 C174.2,508.5 177.9,508.1 180.1,508.5 C182.2,509.0 184.2,509.5 186.1,511.1 C187.9,512.8 189.6,515.3 191.1,518.2 C192.6,521.0 193.9,524.2 195.1,528.2 C196.3,532.2 197.1,537.6 198.1,542.3 C199.1,546.9 200.0,551.6 201.1,556.3 C202.3,561.0 203.6,566.6 205.1,570.4 C206.7,574.1 208.7,579.0 210.2,579.0 C211.7,579.0 212.8,573.5 214.2,570.4 C215.5,567.3 216.7,563.8 218.2,560.3 C219.7,556.8 221.5,553.0 223.2,549.3 C224.9,545.6 226.7,541.2 228.2,538.2 C229.7,535.3 231.1,532.2 232.2,531.8 C233.4,531.5 234.1,534.0 235.3,536.2 C236.4,538.5 238.1,545.3 239.3,545.3 C240.4,545.3 241.3,539.4 242.3,536.2 C243.3,533.1 244.1,528.9 245.3,526.2 C246.5,523.5 248.0,521.8 249.3,520.2 C250.6,518.6 252.0,516.2 253.3,516.6 C254.7,516.9 256.0,520.3 257.3,522.2 C258.7,524.1 259.7,527.2 261.4,527.8 C263.0,528.4 265.4,527.1 267.4,525.8 C269.4,524.5 271.6,521.9 273.4,519.8 C275.2,517.7 276.6,515.4 278.4,513.2 C280.3,510.9 282.3,508.0 284.4,506.1 C286.6,504.3 289.3,503.4 291.5,502.1 C293.6,500.8 295.1,499.1 297.5,498.5 C299.8,497.9 302.8,498.7 305.5,498.5 C308.2,498.3 311.2,497.3 313.5,497.1 C315.9,496.9 317.9,497.8 319.6,497.1 C321.2,496.4 322.4,494.0 323.6,493.1 C324.7,492.1 325.4,491.0 326.6,491.5 C327.8,492.0 329.3,494.9 330.6,496.1 C331.9,497.3 333.3,498.9 334.6,498.7 C336.0,498.5 337.5,496.0 338.6,495.1 C339.8,494.2 340.5,492.8 341.6,493.5 C342.8,494.2 344.3,497.6 345.7,499.1 C347.0,500.6 348.0,502.2 349.7,502.5 C351.3,502.9 353.5,501.3 355.7,501.1 C357.9,500.9 360.7,500.6 362.7,501.5 C364.7,502.4 366.2,505.0 367.7,506.5 C369.2,508.1 370.1,510.1 371.8,510.7 C373.4,511.4 376.2,509.8 377.8,510.5 C379.3,511.3 379.9,513.1 381.1,515.4 C382.3,517.7 383.1,523.4 385.1,524.5 C387.1,525.5 390.8,522.3 393.1,521.4 C395.5,520.6 397.5,520.6 399.2,519.4 C400.8,518.3 401.8,516.0 403.2,514.4 C404.5,512.8 405.7,511.0 407.2,510.0 C408.7,509.0 410.7,508.3 412.2,508.4 C413.7,508.5 414.9,509.2 416.2,510.4 C417.6,511.6 419.1,514.5 420.2,515.4 C421.4,516.4 421.9,516.4 423.2,516.0 C424.6,515.7 426.4,514.4 428.3,513.4 C430.1,512.4 432.4,510.8 434.3,510.0 C436.1,509.2 437.6,508.7 439.3,508.4 C441.0,508.1 442.8,509.4 444.3,508.4 C445.8,507.4 447.2,504.2 448.3,502.4 C449.5,500.5 449.8,498.6 451.4,497.4 C452.9,496.1 455.4,495.8 457.4,494.9 C459.4,494.1 461.9,492.9 463.4,492.3 C464.9,491.7 465.1,491.3 466.4,491.3 C467.7,491.3 469.8,492.2 471.4,492.3 C473.1,492.4 474.9,491.9 476.4,491.9 C477.9,491.9 479.3,491.6 480.5,492.3 C481.6,493.1 482.3,494.6 483.5,496.4 C484.6,498.1 485.8,500.9 487.5,502.8 C489.2,504.6 491.7,506.9 493.5,507.4 C495.3,507.9 497.0,506.4 498.5,506.0 C500.0,505.6 501.4,504.4 502.5,505.0 C503.7,505.6 504.4,508.0 505.5,509.4 C506.7,510.8 507.9,512.5 509.6,513.4 C511.2,514.3 513.9,514.8 515.6,514.8 C517.3,514.8 518.1,514.1 519.6,513.4 C521.1,512.7 522.9,511.1 524.6,510.8 C526.3,510.5 528.1,511.5 529.6,511.4 C531.1,511.3 532.3,510.7 533.6,510.4 C535.0,510.1 536.3,509.2 537.7,509.4 C539.0,509.6 540.3,510.4 541.7,511.4 C543.0,512.4 545.0,514.8 545.7,515.4" fill="none" stroke="#548235" stroke-width="2.0" stroke-linejoin="round" stroke-linecap="round"/>
<path d="M172.6,524.2 C173.8,523.7 177.5,520.2 179.5,521.2 C181.4,522.2 182.6,526.0 184.1,530.2 C185.5,534.4 186.9,541.3 188.1,546.3 C189.3,551.3 190.0,556.1 191.1,560.3 C192.2,564.5 193.5,571.0 194.7,571.4 C195.9,571.7 196.9,565.8 198.1,562.3 C199.4,558.8 200.6,553.5 202.1,550.3 C203.6,547.1 205.6,545.9 207.2,543.3 C208.7,540.6 210.2,538.2 211.2,534.2 C212.2,530.2 212.2,523.5 213.2,519.2 C214.2,514.9 215.7,511.1 217.0,508.5 C218.3,505.9 219.4,504.8 220.9,503.7 C222.4,502.6 223.5,502.2 225.8,501.9 C228.2,501.6 233.1,501.9 235.0,501.9 C236.9,501.9 236.0,503.9 237.3,502.1 C238.5,500.3 240.9,494.4 242.3,491.1 C243.6,487.7 244.3,482.5 245.3,482.0 C246.3,481.5 247.1,483.9 248.3,488.1 C249.5,492.2 251.4,506.1 252.7,507.1 C254.1,508.1 255.1,498.8 256.3,494.1 C257.6,489.4 258.8,481.8 260.3,479.0 C261.9,476.3 264.0,478.4 265.4,477.6 C266.7,476.8 267.4,477.8 268.4,474.3 C269.4,470.7 270.4,461.2 271.4,456.2 C272.4,451.2 273.1,445.9 274.4,444.2 C275.7,442.4 277.6,444.1 279.4,445.8 C281.3,447.4 283.8,451.6 285.4,454.2 C287.1,456.8 287.8,459.4 289.5,461.2 C291.1,463.1 293.8,463.4 295.5,465.2 C297.1,467.1 298.2,469.6 299.5,472.3 C300.8,474.9 302.0,480.3 303.5,481.3 C305.0,482.3 306.8,480.3 308.5,478.3 C310.2,476.3 311.9,471.8 313.5,469.3 C315.2,466.7 316.6,464.1 318.6,463.2 C320.6,462.3 323.4,463.6 325.6,463.8 C327.8,464.1 329.8,465.2 331.6,464.6 C333.4,464.0 335.0,461.5 336.6,460.2 C338.3,459.0 339.8,457.9 341.6,457.2 C343.5,456.5 345.8,455.7 347.7,456.2 C349.5,456.7 351.5,458.4 352.7,460.2 C353.9,462.1 353.9,466.9 355.0,467.2 C356.1,467.6 357.5,463.9 359.0,462.2 C360.5,460.6 362.4,458.3 364.0,457.2 C365.7,456.1 367.4,455.6 369.1,455.8 C370.7,456.0 372.6,457.5 374.1,458.6 C375.6,459.7 376.9,460.8 378.1,462.2 C379.3,463.7 380.0,465.8 381.1,467.2 C382.2,468.6 383.4,470.5 384.7,470.7 C386.0,470.8 387.7,469.7 389.1,468.2 C390.5,466.8 391.8,465.1 393.1,462.2 C394.5,459.4 395.8,453.5 397.2,451.2 C398.5,448.8 399.5,448.7 401.2,448.2 C402.8,447.7 405.2,448.3 407.2,448.2 C409.2,448.0 411.5,447.0 413.2,447.2 C414.9,447.3 415.9,448.3 417.2,449.2 C418.6,450.1 419.7,452.6 421.2,452.6 C422.7,452.6 424.8,450.6 426.3,449.2 C427.8,447.8 428.8,446.2 430.3,444.2 C431.8,442.2 433.6,438.0 435.3,437.1 C437.0,436.3 438.6,438.5 440.3,439.1 C442.0,439.8 443.7,440.5 445.3,441.1 C447.0,441.8 448.8,441.8 450.3,443.2 C451.9,444.5 453.0,447.3 454.4,449.2 C455.7,451.0 456.9,452.4 458.4,454.2 C459.9,456.0 461.9,458.4 463.4,460.2 C464.9,462.1 466.1,463.2 467.4,465.2 C468.7,467.3 470.2,472.3 471.4,472.7 C472.7,473.0 473.9,469.2 475.0,467.2 C476.2,465.3 477.2,461.3 478.4,460.8 C479.7,460.3 481.1,462.8 482.5,464.2 C483.8,465.6 485.1,469.8 486.5,469.3 C487.8,468.8 489.2,463.5 490.5,461.2 C491.8,459.0 493.0,457.0 494.5,455.8 C496.0,454.6 497.9,454.0 499.5,454.2 C501.2,454.4 503.0,456.2 504.5,457.2 C506.0,458.2 507.1,460.1 508.6,460.2 C510.1,460.4 511.9,459.1 513.6,458.2 C515.2,457.3 516.9,455.4 518.6,454.6 C520.3,453.8 521.8,453.3 523.6,453.2 C525.5,453.1 527.6,453.5 529.6,454.2 C531.6,454.9 533.8,455.9 535.7,457.2 C537.5,458.5 539.2,460.2 540.7,462.2 C542.2,464.2 544.0,468.1 544.7,469.3" fill="none" stroke="#8FAADC" stroke-width="2.0" stroke-linejoin="round" stroke-linecap="round"/>
<path d="M172.0,468.2 C172.7,467.4 174.9,464.4 176.0,463.2 C177.2,462.1 177.9,460.9 179.1,461.2 C180.2,461.6 181.5,463.9 183.1,465.2 C184.6,466.6 186.8,468.3 188.5,469.5 C190.1,470.6 191.7,471.0 193.0,472.2 C194.2,473.4 194.8,474.5 195.7,476.5 C196.6,478.5 197.5,481.7 198.6,484.3 C199.7,486.9 201.2,489.4 202.5,492.0 C203.8,494.6 205.3,497.4 206.4,499.8 C207.5,502.2 208.4,504.2 209.3,506.6 C210.2,509.0 211.0,512.3 211.7,514.4 C212.3,516.5 212.6,518.1 213.2,519.2 C213.8,520.3 214.4,521.1 215.0,521.0 C215.6,520.9 216.2,520.9 217.0,518.3 C217.8,515.7 219.0,509.7 220.0,505.6 C221.0,501.6 221.9,497.7 222.9,494.0 C223.9,490.3 224.8,486.4 225.8,483.3 C226.8,480.2 228.0,478.2 229.0,475.4 C229.9,472.7 230.9,469.0 231.6,466.8 C232.3,464.6 232.4,464.5 233.2,462.2 C234.1,460.0 235.7,453.5 236.9,453.2 C238.0,452.9 239.0,457.7 240.3,460.2 C241.5,462.7 242.8,467.4 244.3,468.2 C245.8,469.1 247.5,466.6 249.3,465.2 C251.1,463.9 253.3,462.2 255.3,460.2 C257.3,458.2 259.3,455.4 261.4,453.2 C263.4,451.0 265.4,448.7 267.4,447.2 C269.4,445.6 271.7,443.6 273.4,443.8 C275.1,443.9 276.1,446.3 277.4,448.2 C278.7,450.1 279.9,453.4 281.4,455.2 C282.9,457.0 284.6,458.7 286.4,459.2 C288.3,459.7 290.8,458.9 292.5,458.2 C294.1,457.5 295.0,454.7 296.5,455.2 C298.0,455.7 300.2,459.7 301.5,461.2 C302.8,462.7 303.2,464.6 304.5,464.2 C305.8,463.9 307.7,461.1 309.5,459.2 C311.4,457.4 313.9,454.2 315.5,453.2 C317.2,452.2 318.2,452.4 319.6,453.2 C320.9,454.0 321.9,456.7 323.6,458.2 C325.2,459.7 327.6,461.9 329.6,462.2 C331.6,462.6 333.6,461.3 335.6,460.2 C337.6,459.1 339.8,457.1 341.6,455.8 C343.5,454.5 344.4,452.8 346.7,452.6 C348.9,452.4 352.9,453.5 355.0,454.6 C357.1,455.7 357.5,457.8 359.0,459.2 C360.5,460.7 362.4,462.2 364.0,463.2 C365.7,464.2 367.4,465.1 369.1,465.2 C370.7,465.3 372.4,464.2 374.1,463.8 C375.7,463.5 377.2,463.0 379.1,463.2 C380.9,463.5 383.3,463.9 385.1,465.2 C386.9,466.6 388.5,469.3 390.1,471.3 C391.8,473.3 393.8,475.7 395.1,477.3 C396.5,478.9 396.8,479.7 398.2,480.7 C399.5,481.7 401.5,482.2 403.2,483.3 C404.8,484.4 406.5,485.6 408.2,487.3 C409.9,489.0 411.5,491.3 413.2,493.3 C414.9,495.3 416.6,497.5 418.2,499.4 C419.9,501.3 421.6,503.1 423.2,504.8 C424.9,506.5 426.6,508.2 428.3,509.4 C429.9,510.6 431.8,512.0 433.3,511.8 C434.8,511.6 436.1,510.0 437.3,508.4 C438.5,506.8 439.0,503.7 440.3,502.4 C441.6,501.0 443.8,500.5 445.3,500.4 C446.8,500.2 448.0,500.9 449.3,501.4 C450.7,501.9 452.2,502.7 453.4,503.4 C454.5,504.0 455.2,505.7 456.4,505.4 C457.5,505.0 459.0,503.2 460.4,501.4 C461.7,499.5 463.1,496.5 464.4,494.3 C465.7,492.2 466.9,490.3 468.4,488.3 C469.9,486.3 471.9,483.8 473.4,482.3 C474.9,480.8 476.3,479.5 477.4,479.3 C478.6,479.1 479.5,479.5 480.5,481.3 C481.5,483.1 482.5,488.8 483.5,490.3 C484.5,491.8 485.1,491.0 486.5,490.3 C487.8,489.7 490.0,488.2 491.5,486.3 C493.0,484.5 494.2,482.1 495.5,479.3 C496.8,476.4 498.0,471.8 499.5,469.3 C501.0,466.7 502.9,465.4 504.5,464.2 C506.2,463.1 507.7,462.5 509.6,462.2 C511.4,462.0 513.9,462.0 515.6,462.6 C517.3,463.3 518.4,465.3 519.6,466.2 C520.8,467.2 521.6,468.6 522.6,468.2 C523.6,467.8 524.6,465.8 525.6,463.8 C526.6,461.9 527.5,457.7 528.6,456.6 C529.8,455.5 531.1,456.6 532.6,457.2 C534.2,457.8 536.2,459.0 537.7,460.2 C539.2,461.4 540.5,462.9 541.7,464.2 C542.8,465.6 544.2,467.6 544.7,468.2" fill="none" stroke="#BF9000" stroke-width="2.0" stroke-linejoin="round" stroke-linecap="round"/>
<path d="M169.0,469.3 C169.5,470.1 170.9,472.8 172.0,474.3 C173.2,475.8 174.7,478.1 176.0,478.3 C177.4,478.5 178.6,476.2 180.1,475.3 C181.5,474.3 183.2,472.8 184.5,472.6 C185.9,472.5 187.2,473.6 188.1,474.3 C189.0,474.9 189.2,475.5 189.9,476.5 C190.6,477.5 191.6,479.2 192.1,480.3 C192.6,481.4 192.4,481.0 192.8,483.3 C193.2,485.6 194.0,490.3 194.7,494.0 C195.3,497.7 196.0,501.4 196.7,505.6 C197.4,509.8 198.0,515.8 199.1,519.2 C200.2,522.6 202.0,524.5 203.1,526.2 C204.3,527.9 205.0,529.5 206.1,529.2 C207.3,528.9 208.7,527.6 210.2,524.2 C211.7,520.7 213.5,513.2 215.1,508.5 C216.7,503.8 218.6,500.1 220.0,495.9 C221.4,491.7 222.7,486.9 223.8,483.3 C224.9,479.8 225.8,476.3 226.7,474.6 C227.6,472.9 228.3,473.0 229.2,473.1 C230.1,473.2 231.4,474.4 232.2,475.0 C233.1,475.7 233.8,476.3 234.5,477.0 C235.2,477.7 235.3,477.5 236.3,479.0 C237.2,480.5 239.1,484.2 240.3,486.1 C241.4,487.9 242.3,490.4 243.3,490.1 C244.3,489.7 245.1,487.7 246.3,484.1 C247.5,480.4 249.0,473.2 250.3,468.2 C251.6,463.3 252.8,457.7 254.3,454.2 C255.8,450.7 257.5,448.2 259.3,447.2 C261.2,446.2 263.4,447.4 265.4,448.2 C267.4,448.9 269.4,450.9 271.4,451.8 C273.4,452.7 275.6,453.7 277.4,453.8 C279.2,453.9 280.8,453.5 282.4,452.6 C284.1,451.7 285.6,449.0 287.4,448.6 C289.3,448.2 291.8,449.2 293.5,450.2 C295.1,451.2 295.8,453.0 297.5,454.6 C299.2,456.2 301.5,458.9 303.5,459.8 C305.5,460.7 307.9,460.6 309.5,459.8 C311.2,459.0 312.4,456.5 313.5,455.2 C314.7,453.9 315.4,452.0 316.6,451.8 C317.7,451.6 319.1,453.0 320.6,454.2 C322.1,455.4 323.7,457.7 325.6,459.2 C327.4,460.7 329.6,463.1 331.6,463.2 C333.6,463.3 335.6,461.1 337.6,459.8 C339.6,458.6 341.8,456.2 343.6,455.8 C345.5,455.4 346.8,455.8 348.7,457.2 C350.6,458.6 352.9,463.0 355.0,464.2 C357.1,465.5 359.0,464.8 361.0,464.6 C363.0,464.5 365.0,463.2 367.0,463.2 C369.1,463.2 371.4,464.5 373.1,464.6 C374.7,464.7 375.4,464.5 377.1,463.8 C378.8,463.2 381.3,461.6 383.1,460.6 C384.9,459.7 386.6,458.4 388.1,458.2 C389.6,458.0 390.8,458.8 392.1,459.2 C393.5,459.6 394.8,461.2 396.1,460.6 C397.5,460.1 398.8,457.4 400.2,455.8 C401.5,454.2 402.7,451.9 404.2,451.2 C405.7,450.5 407.7,451.1 409.2,451.8 C410.7,452.5 411.9,453.5 413.2,455.2 C414.5,456.9 415.9,459.4 417.2,462.2 C418.6,465.1 419.9,467.9 421.2,472.3 C422.6,476.6 424.3,486.3 425.3,488.3 C426.3,490.3 426.4,487.3 427.3,484.3 C428.1,481.3 429.3,474.9 430.3,470.3 C431.3,465.6 432.1,460.1 433.3,456.2 C434.5,452.4 436.0,449.2 437.3,447.2 C438.6,445.2 439.6,444.5 441.3,444.2 C443.0,443.8 445.3,444.5 447.3,445.2 C449.3,445.8 451.7,446.9 453.4,448.2 C455.0,449.4 456.0,450.9 457.4,452.6 C458.7,454.3 459.9,456.4 461.4,458.2 C462.9,460.0 464.9,461.6 466.4,463.2 C467.9,464.8 468.9,465.5 470.4,467.8 C471.9,470.2 473.8,475.2 475.4,477.3 C477.1,479.4 478.8,479.5 480.5,480.3 C482.1,481.1 483.6,481.8 485.5,482.3 C487.3,482.8 489.8,484.1 491.5,483.3 C493.2,482.5 494.2,479.5 495.5,477.3 C496.8,475.1 498.0,472.4 499.5,470.3 C501.0,468.1 503.0,466.0 504.5,464.2 C506.0,462.5 507.1,461.3 508.6,459.8 C510.1,458.3 512.1,455.5 513.6,455.2 C515.1,454.9 516.3,457.4 517.6,458.2 C518.9,459.0 519.9,460.0 521.6,460.2 C523.3,460.5 526.0,459.1 527.6,459.8 C529.3,460.5 530.3,462.4 531.6,464.2 C533.0,466.0 534.3,469.5 535.7,470.7 C537.0,471.8 538.3,471.3 539.7,471.3 C541.0,471.2 543.0,470.4 543.7,470.3" fill="none" stroke="#808080" stroke-width="2.0" stroke-linejoin="round" stroke-linecap="round"/>
<path d="M168.0,465.2 C168.8,466.6 171.4,471.3 173.0,473.3 C174.7,475.3 176.2,476.0 178.0,477.3 C179.9,478.5 182.1,480.3 184.1,480.7 C186.1,481.1 188.2,479.7 190.0,479.9 C191.8,480.1 193.7,481.5 194.7,481.8 C195.7,482.1 195.1,481.2 196.1,481.9 C197.1,482.5 198.8,484.0 200.5,485.7 C202.2,487.4 204.6,489.6 206.4,492.0 C208.2,494.4 209.9,497.4 211.2,499.8 C212.5,502.2 213.2,504.2 214.1,506.6 C215.0,509.0 215.9,512.2 216.6,514.4 C217.3,516.6 217.8,518.6 218.5,519.7 C219.2,520.8 220.1,521.1 221.0,521.0 C221.9,520.9 222.7,520.6 223.8,519.2 C224.9,517.8 226.6,515.8 227.7,512.4 C228.8,509.0 229.8,502.7 230.6,498.8 C231.4,494.9 231.9,491.1 232.6,489.1 C233.3,487.1 233.5,487.3 234.6,486.9 C235.7,486.4 238.0,486.6 239.3,486.5 C240.5,486.3 241.3,487.8 242.3,486.1 C243.3,484.4 244.1,479.6 245.3,476.3 C246.5,473.0 247.8,468.6 249.3,466.2 C250.8,463.9 252.7,463.2 254.3,462.2 C256.0,461.3 257.8,460.6 259.3,460.6 C260.8,460.6 262.7,462.0 263.4,462.2" fill="none" stroke="#C00000" stroke-width="2.0" stroke-linejoin="round" stroke-linecap="round"/>
<path d="M579.4,408.8V585.2H959.0" fill="none" stroke="#A6A6A6" stroke-width="1"/>
<path d="M574.9,409.3H579.4" stroke="#A6A6A6" stroke-width="1"/>
<text x="571.9" y="413.5" class="yl" text-anchor="end" textLength="16.8" lengthAdjust="spacingAndGlyphs">850</text>
<path d="M574.9,434.4H579.4" stroke="#A6A6A6" stroke-width="1"/>
<text x="571.9" y="438.6" class="yl" text-anchor="end" textLength="16.8" lengthAdjust="spacingAndGlyphs">800</text>
<path d="M574.9,459.6H579.4" stroke="#A6A6A6" stroke-width="1"/>
<text x="571.9" y="463.8" class="yl" text-anchor="end" textLength="16.8" lengthAdjust="spacingAndGlyphs">750</text>
<path d="M574.9,484.7H579.4" stroke="#A6A6A6" stroke-width="1"/>
<text x="571.9" y="488.9" class="yl" text-anchor="end" textLength="16.8" lengthAdjust="spacingAndGlyphs">700</text>
<path d="M574.9,509.8H579.4" stroke="#A6A6A6" stroke-width="1"/>
<text x="571.9" y="514.0" class="yl" text-anchor="end" textLength="16.8" lengthAdjust="spacingAndGlyphs">650</text>
<path d="M574.9,534.9H579.4" stroke="#A6A6A6" stroke-width="1"/>
<text x="571.9" y="539.1" class="yl" text-anchor="end" textLength="16.8" lengthAdjust="spacingAndGlyphs">600</text>
<path d="M574.9,560.1H579.4" stroke="#A6A6A6" stroke-width="1"/>
<text x="571.9" y="564.3" class="yl" text-anchor="end" textLength="16.8" lengthAdjust="spacingAndGlyphs">550</text>
<path d="M574.9,585.2H579.4" stroke="#A6A6A6" stroke-width="1"/>
<text x="571.9" y="589.4" class="yl" text-anchor="end" textLength="16.8" lengthAdjust="spacingAndGlyphs">500</text>
<path d="M579.4,585.2V589.7" stroke="#A6A6A6" stroke-width="1"/>
<text x="580.2" y="603.0" class="xl" text-anchor="middle">1月</text>
<path d="M611.4,585.2V589.7" stroke="#A6A6A6" stroke-width="1"/>
<text x="612.2" y="603.0" class="xl" text-anchor="middle">2月</text>
<path d="M641.8,585.2V589.7" stroke="#A6A6A6" stroke-width="1"/>
<text x="642.6" y="603.0" class="xl" text-anchor="middle">3月</text>
<path d="M672.0,585.2V589.7" stroke="#A6A6A6" stroke-width="1"/>
<text x="672.8" y="603.0" class="xl" text-anchor="middle">4月</text>
<path d="M704.4,585.2V589.7" stroke="#A6A6A6" stroke-width="1"/>
<text x="705.2" y="603.0" class="xl" text-anchor="middle">5月</text>
<path d="M735.6,585.2V589.7" stroke="#A6A6A6" stroke-width="1"/>
<text x="736.4" y="603.0" class="xl" text-anchor="middle">6月</text>
<path d="M768.6,585.2V589.7" stroke="#A6A6A6" stroke-width="1"/>
<text x="769.4" y="603.0" class="xl" text-anchor="middle">7月</text>
<path d="M799.4,585.2V589.7" stroke="#A6A6A6" stroke-width="1"/>
<text x="800.2" y="603.0" class="xl" text-anchor="middle">8月</text>
<path d="M831.4,585.2V589.7" stroke="#A6A6A6" stroke-width="1"/>
<text x="832.2" y="603.0" class="xl" text-anchor="middle">9月</text>
<path d="M863.6,585.2V589.7" stroke="#A6A6A6" stroke-width="1"/>
<text x="864.4" y="603.0" class="xl" text-anchor="middle">10月</text>
<path d="M895.4,585.2V589.7" stroke="#A6A6A6" stroke-width="1"/>
<text x="896.2" y="603.0" class="xl" text-anchor="middle">11月</text>
<path d="M927.4,585.2V589.7" stroke="#A6A6A6" stroke-width="1"/>
<text x="928.2" y="603.0" class="xl" text-anchor="middle">12月</text>
<path d="M959.0,585.2V589.7" stroke="#A6A6A6" stroke-width="1"/>
<text x="756.5" y="392.0" class="ct" text-anchor="middle">其他钢材产量</text>
<path d="M599.6,401.0H623.6" stroke="#548235" stroke-width="2"/>
<text x="627.9" y="404.9" class="lg" textLength="26.6" lengthAdjust="spacingAndGlyphs">2022</text>
<path d="M663.8,401.0H687.8" stroke="#8FAADC" stroke-width="2"/>
<text x="692.1" y="404.9" class="lg" textLength="26.6" lengthAdjust="spacingAndGlyphs">2023</text>
<path d="M728.0,401.0H752.0" stroke="#BF9000" stroke-width="2"/>
<text x="756.3" y="404.9" class="lg" textLength="26.6" lengthAdjust="spacingAndGlyphs">2024</text>
<path d="M792.2,401.0H816.2" stroke="#808080" stroke-width="2"/>
<text x="820.5" y="404.9" class="lg" textLength="26.6" lengthAdjust="spacingAndGlyphs">2025</text>
<path d="M856.4,401.0H880.4" stroke="#C00000" stroke-width="2"/>
<text x="884.7" y="404.9" class="lg" textLength="26.6" lengthAdjust="spacingAndGlyphs">2026</text>
<path d="M586.0,557.9 C586.7,557.2 588.4,555.2 590.0,553.3 C591.7,551.4 594.3,548.6 596.1,546.3 C597.8,543.9 599.1,539.6 600.5,539.3 C601.8,538.9 602.8,542.5 604.1,544.3 C605.4,546.0 606.9,551.2 608.1,549.9 C609.3,548.6 610.1,541.9 611.1,536.2 C612.1,530.6 613.2,519.8 614.1,516.2 C615.0,512.6 615.7,511.2 616.5,514.6 C617.4,517.9 618.0,530.0 619.1,536.2 C620.3,542.5 621.7,549.4 623.2,551.9 C624.7,554.4 626.7,552.2 628.2,551.3 C629.7,550.4 630.9,549.5 632.2,546.3 C633.5,543.1 634.9,536.6 636.2,532.2 C637.5,527.9 638.9,524.2 640.2,520.2 C641.6,516.2 642.7,511.5 644.2,508.1 C645.7,504.8 647.6,502.5 649.3,500.1 C650.9,497.8 652.8,496.3 654.3,494.1 C655.8,491.9 657.0,489.7 658.3,487.1 C659.6,484.4 661.0,481.0 662.3,478.0 C663.6,475.1 665.2,470.2 666.3,469.3 C667.5,468.3 668.3,470.8 669.3,472.3 C670.3,473.8 671.2,476.4 672.3,478.3 C673.5,480.1 674.9,482.5 676.4,483.3 C677.9,484.1 679.9,484.5 681.4,483.3 C682.9,482.1 684.4,478.0 685.4,476.3 C686.4,474.6 686.4,473.6 687.4,473.3 C688.4,472.9 690.1,473.4 691.4,474.3 C692.8,475.1 694.1,478.0 695.4,478.3 C696.8,478.6 698.1,476.8 699.4,476.3 C700.8,475.8 702.0,475.3 703.5,475.3 C705.0,475.3 706.6,476.4 708.5,476.3 C710.3,476.1 712.5,475.0 714.5,474.3 C716.5,473.5 718.5,472.5 720.5,471.9 C722.5,471.2 724.7,470.5 726.5,470.3 C728.4,470.1 730.1,469.8 731.6,470.7 C733.1,471.5 734.2,473.7 735.6,475.3 C736.9,476.9 738.1,478.8 739.6,480.3 C741.1,481.8 743.1,484.1 744.6,484.3 C746.1,484.5 747.3,482.8 748.6,481.3 C750.0,479.8 751.5,476.1 752.6,475.3 C753.8,474.4 754.6,475.1 755.6,476.3 C756.6,477.4 757.7,479.6 758.7,482.3 C759.7,485.0 761.0,489.4 761.7,492.3 C762.3,495.3 761.7,495.8 762.7,500.1 C763.7,504.4 766.2,513.7 767.7,518.2 C769.2,522.7 770.2,524.5 771.7,527.2 C773.2,529.9 775.0,531.7 776.7,534.2 C778.4,536.7 780.2,539.3 781.7,542.3 C783.2,545.3 784.4,549.0 785.8,552.3 C787.1,555.6 788.5,559.8 789.8,562.3 C791.0,564.8 791.7,565.8 793.1,567.4 C794.5,568.9 796.5,571.4 798.1,571.4 C799.8,571.4 801.3,569.0 803.2,567.4 C805.0,565.7 807.3,563.5 809.2,561.3 C811.0,559.2 812.4,557.3 814.2,554.3 C816.0,551.3 818.4,546.8 820.2,543.3 C822.1,539.8 823.7,536.9 825.2,533.2 C826.7,529.5 828.1,525.0 829.3,521.2 C830.4,517.3 831.4,512.6 832.3,510.1 C833.2,507.7 833.7,506.5 834.7,506.5 C835.7,506.5 837.2,509.3 838.3,510.1 C839.4,511.0 840.0,512.0 841.3,511.8 C842.6,511.5 844.5,510.0 846.3,508.5 C848.2,507.1 850.5,504.5 852.3,503.1 C854.2,501.7 855.5,500.6 857.4,500.1 C859.2,499.6 861.7,499.8 863.4,500.1 C865.0,500.4 866.2,501.3 867.4,502.1 C868.6,503.0 869.2,504.7 870.4,505.1 C871.6,505.5 873.1,504.7 874.4,504.5 C875.8,504.4 877.1,503.4 878.4,504.1 C879.8,504.9 880.9,507.0 882.4,509.1 C884.0,511.3 885.8,514.8 887.5,517.2 C889.1,519.5 890.6,521.9 892.5,523.2 C894.3,524.5 896.8,524.2 898.5,525.2 C900.2,526.2 901.2,527.6 902.5,529.2 C903.9,530.8 905.2,533.1 906.5,534.6 C907.9,536.2 909.2,537.6 910.5,538.6 C911.9,539.7 913.2,541.1 914.6,540.9 C915.9,540.6 917.4,538.2 918.6,537.2 C919.7,536.3 920.4,534.9 921.6,535.2 C922.8,535.6 924.3,537.6 925.6,539.3 C926.9,540.9 928.3,543.3 929.6,545.3 C931.0,547.3 932.5,550.0 933.6,551.3 C934.8,552.6 935.5,553.6 936.6,553.3 C937.8,553.0 939.0,551.0 940.7,549.3 C942.3,547.6 945.0,544.8 946.7,543.3 C948.4,541.8 949.4,540.5 950.7,540.3 C952.0,540.0 953.4,541.2 954.7,541.9 C956.0,542.5 958.1,543.9 958.7,544.3" fill="none" stroke="#548235" stroke-width="2.0" stroke-linejoin="round" stroke-linecap="round"/>
<path d="M585.0,545.3 C586.2,545.7 590.0,547.8 592.1,547.7 C594.1,547.5 595.6,546.2 597.1,544.3 C598.6,542.4 599.9,539.9 601.1,536.2 C602.3,532.6 603.3,526.7 604.1,522.2 C604.9,517.7 605.4,512.2 606.1,509.1 C606.8,506.1 607.3,503.6 608.1,504.1 C608.9,504.6 610.1,509.8 611.1,512.2 C612.1,514.5 613.1,518.7 614.1,518.2 C615.1,517.7 616.0,512.0 617.1,509.1 C618.3,506.3 619.7,502.5 621.2,501.1 C622.7,499.8 624.7,500.9 626.2,501.1 C627.7,501.3 628.9,503.3 630.2,502.1 C631.5,500.9 632.7,496.8 634.2,494.1 C635.7,491.4 637.7,488.4 639.2,486.1 C640.7,483.7 641.9,483.0 643.2,480.0 C644.6,477.1 645.9,471.8 647.3,468.2 C648.6,464.7 649.9,459.6 651.3,458.6 C652.6,457.6 654.1,461.0 655.3,462.2 C656.5,463.5 657.3,467.6 658.3,466.2 C659.3,464.9 660.1,459.0 661.3,454.2 C662.5,449.3 664.1,439.0 665.3,437.1 C666.5,435.3 667.3,440.6 668.3,443.2 C669.3,445.7 670.2,450.6 671.3,452.2 C672.5,453.8 674.2,453.1 675.4,452.6 C676.5,452.1 677.4,449.2 678.4,449.2 C679.4,449.1 680.4,450.2 681.4,452.2 C682.4,454.2 683.4,457.5 684.4,461.2 C685.4,464.9 686.2,472.4 687.4,474.3 C688.6,476.2 690.1,472.7 691.4,472.7 C692.8,472.7 694.1,473.2 695.4,474.3 C696.8,475.4 698.1,477.3 699.4,479.3 C700.8,481.3 702.3,483.5 703.5,486.3 C704.6,489.2 705.5,494.0 706.5,496.4 C707.5,498.7 708.5,501.0 709.5,500.4 C710.5,499.7 711.3,495.2 712.5,492.3 C713.7,489.5 714.8,484.5 716.5,483.3 C718.2,482.1 720.7,484.7 722.5,485.3 C724.4,485.9 725.9,486.4 727.5,486.7 C729.2,487.0 730.7,486.0 732.6,487.3 C734.4,488.6 736.6,493.7 738.6,494.3 C740.6,495.0 742.6,492.5 744.6,491.3 C746.6,490.2 748.8,488.5 750.6,487.3 C752.5,486.1 754.1,486.3 755.6,484.3 C757.2,482.3 758.6,478.1 760.0,475.3 C761.4,472.4 762.5,469.3 764.0,467.2 C765.5,465.2 767.4,463.8 769.0,463.2 C770.7,462.7 772.7,463.2 774.1,463.8 C775.4,464.5 776.2,465.7 777.1,467.2 C777.9,468.8 778.2,471.3 779.1,473.3 C779.9,475.3 780.9,478.8 782.1,479.3 C783.3,479.8 784.8,477.1 786.1,476.3 C787.4,475.4 788.6,474.3 790.1,474.3 C791.6,474.2 793.5,475.6 795.1,475.9 C796.8,476.1 798.6,475.8 800.1,475.7 C801.7,475.6 802.8,474.9 804.2,475.3 C805.5,475.6 807.0,477.1 808.2,477.9 C809.3,478.7 810.0,480.2 811.2,479.9 C812.4,479.6 813.9,476.9 815.2,476.3 C816.5,475.6 818.0,475.5 819.2,475.9 C820.4,476.2 821.2,477.4 822.2,478.3 C823.2,479.2 824.2,481.6 825.2,481.3 C826.2,481.0 827.1,478.8 828.2,476.3 C829.4,473.8 830.8,468.8 832.3,466.2 C833.8,463.7 835.6,462.6 837.3,461.2 C839.0,459.9 840.6,459.2 842.3,458.2 C844.0,457.2 845.6,455.8 847.3,455.2 C849.0,454.6 850.8,454.4 852.3,454.6 C853.8,454.8 855.2,455.7 856.4,456.6 C857.5,457.5 858.4,459.3 859.4,460.2 C860.4,461.2 861.0,462.3 862.4,462.2 C863.7,462.2 865.7,460.2 867.4,459.8 C869.1,459.4 870.9,459.9 872.4,459.8 C873.9,459.7 875.1,459.8 876.4,459.2 C877.8,458.6 879.3,457.2 880.4,456.2 C881.6,455.2 882.4,453.5 883.4,453.2 C884.5,452.9 885.5,453.2 886.5,454.2 C887.5,455.2 888.3,457.5 889.5,459.2 C890.6,460.9 892.0,462.7 893.5,464.2 C895.0,465.8 897.0,468.6 898.5,468.6 C900.0,468.6 901.3,465.9 902.5,464.2 C903.7,462.6 904.5,458.8 905.5,458.6 C906.5,458.4 907.4,460.5 908.5,463.2 C909.7,466.0 911.4,473.1 912.6,475.3 C913.7,477.4 914.2,476.5 915.6,476.3 C916.9,476.0 918.9,473.9 920.6,473.9 C922.3,473.9 923.9,475.0 925.6,476.3 C927.3,477.5 928.9,479.5 930.6,481.3 C932.3,483.1 934.0,485.1 935.6,487.3 C937.3,489.5 939.0,492.9 940.7,494.3 C942.3,495.8 944.2,495.4 945.7,495.9 C947.2,496.5 948.5,496.5 949.7,497.4 C950.9,498.3 951.4,499.5 952.7,501.4 C954.0,503.2 956.9,507.2 957.7,508.4" fill="none" stroke="#8FAADC" stroke-width="2.0" stroke-linejoin="round" stroke-linecap="round"/>
<path d="M583.6,516.6 C584.5,515.8 587.5,513.7 589.0,512.2 C590.6,510.6 591.7,509.5 593.1,507.1 C594.4,504.8 595.9,500.3 597.1,498.1 C598.2,495.9 598.9,494.4 600.1,494.1 C601.3,493.8 602.8,494.6 604.1,496.1 C605.4,497.6 606.9,499.9 608.1,503.1 C609.3,506.3 610.2,511.9 611.1,515.2 C612.1,518.4 612.9,521.9 613.7,522.6 C614.6,523.3 615.1,521.9 616.1,519.2 C617.2,516.4 618.8,510.6 620.2,506.1 C621.5,501.6 622.8,495.9 624.2,492.1 C625.5,488.2 627.0,483.4 628.2,483.0 C629.4,482.7 630.0,486.7 631.2,490.1 C632.4,493.4 634.0,501.1 635.2,503.1 C636.4,505.1 637.0,502.7 638.2,502.1 C639.4,501.5 640.9,498.9 642.2,499.7 C643.6,500.5 645.1,504.2 646.2,507.1 C647.4,510.0 648.1,515.8 649.3,517.2 C650.4,518.5 651.9,515.7 653.3,515.2 C654.6,514.7 655.8,513.0 657.3,514.2 C658.8,515.3 660.8,519.8 662.3,522.2 C663.8,524.5 664.6,526.3 666.3,528.2 C668.0,530.2 670.3,532.2 672.3,533.8 C674.4,535.5 676.4,537.8 678.4,538.2 C680.4,538.6 682.7,537.6 684.4,536.2 C686.1,534.9 687.1,533.4 688.4,530.2 C689.7,527.0 690.9,521.7 692.4,517.2 C693.9,512.7 695.9,507.0 697.4,503.1 C698.9,499.3 699.8,496.1 701.4,494.1 C703.1,492.1 705.8,492.7 707.5,491.1 C709.1,489.4 710.3,487.4 711.5,484.1 C712.7,480.7 713.3,474.4 714.5,471.3 C715.7,468.1 717.2,466.8 718.5,465.2 C719.8,463.7 721.0,462.2 722.5,461.8 C724.0,461.5 725.9,462.8 727.5,463.2 C729.2,463.7 730.7,464.5 732.6,464.6 C734.4,464.8 736.6,464.5 738.6,464.2 C740.6,464.0 742.6,463.4 744.6,463.2 C746.6,463.1 748.8,463.1 750.6,463.2 C752.5,463.3 754.1,463.7 755.6,463.8 C757.2,464.0 758.8,462.5 760.0,464.2 C761.2,466.0 761.8,471.1 763.0,474.3 C764.2,477.4 765.5,481.9 767.0,483.3 C768.5,484.7 770.4,483.4 772.0,482.7 C773.7,482.0 775.4,480.5 777.1,479.3 C778.7,478.1 780.2,476.6 782.1,475.3 C783.9,473.9 786.1,472.0 788.1,471.3 C790.1,470.5 792.3,470.2 794.1,470.7 C796.0,471.2 797.7,472.8 799.1,474.3 C800.5,475.7 801.4,479.8 802.6,479.3 C803.7,478.8 804.9,474.2 806.2,471.3 C807.4,468.3 808.8,463.0 810.2,461.8 C811.5,460.7 812.9,462.7 814.2,464.2 C815.5,465.8 816.9,468.2 818.2,471.3 C819.5,474.3 820.9,478.8 822.2,482.3 C823.6,485.8 824.6,489.6 826.2,492.3 C827.9,495.1 830.6,498.2 832.3,498.8 C833.9,499.4 834.9,497.7 836.3,495.9 C837.6,494.2 839.0,490.8 840.3,488.3 C841.6,485.9 843.2,482.9 844.3,481.3 C845.4,479.7 845.7,478.4 846.7,478.7 C847.7,479.0 849.1,482.0 850.3,483.3 C851.6,484.6 852.7,486.3 854.3,486.7 C856.0,487.2 858.9,487.3 860.4,485.9 C861.9,484.5 862.4,481.6 863.4,478.3 C864.4,475.0 865.4,469.8 866.4,466.2 C867.4,462.7 868.1,459.5 869.4,457.2 C870.7,454.9 872.6,453.9 874.4,452.6 C876.3,451.3 878.6,449.6 880.4,449.2 C882.3,448.7 883.8,449.2 885.5,449.8 C887.1,450.3 889.1,453.1 890.5,452.6 C891.8,452.1 892.3,449.0 893.5,446.6 C894.7,444.2 896.2,439.4 897.5,438.1 C898.8,436.9 900.0,438.1 901.5,439.1 C903.0,440.1 904.9,442.7 906.5,444.2 C908.2,445.6 910.0,445.9 911.6,447.8 C913.1,449.6 914.2,452.5 915.6,455.2 C916.9,457.9 917.9,462.3 919.6,464.2 C921.3,466.2 923.6,466.0 925.6,466.8 C927.6,467.7 929.8,468.5 931.6,469.3 C933.5,470.0 935.0,470.6 936.6,471.3 C938.3,471.9 940.2,472.3 941.7,473.3 C943.2,474.3 944.5,476.2 945.7,477.3 C946.8,478.4 947.0,479.7 948.7,479.9 C950.4,480.1 954.5,478.6 955.7,478.3" fill="none" stroke="#BF9000" stroke-width="2.0" stroke-linejoin="round" stroke-linecap="round"/>
<path d="M581.6,484.5 C582.2,483.2 583.8,478.9 585.0,477.0 C586.3,475.1 587.9,472.5 589.0,473.0 C590.2,473.5 591.2,476.5 592.1,480.0 C592.9,483.5 593.2,489.4 594.1,494.1 C594.9,498.8 596.1,503.8 597.1,508.1 C598.1,512.5 599.1,516.8 600.1,520.2 C601.1,523.5 602.1,527.9 603.1,528.2 C604.1,528.5 605.3,525.2 606.1,522.2 C606.9,519.2 607.3,514.0 608.1,510.1 C608.9,506.3 609.8,501.6 611.1,499.1 C612.5,496.6 614.6,496.3 616.1,495.1 C617.6,493.9 618.8,493.8 620.2,492.1 C621.5,490.4 622.7,487.4 624.2,485.1 C625.7,482.7 627.5,479.7 629.2,478.0 C630.9,476.4 632.5,475.1 634.2,475.0 C635.9,475.0 637.7,477.8 639.2,477.6 C640.7,477.5 641.9,477.3 643.2,474.0 C644.6,470.8 645.7,461.7 647.3,458.2 C648.8,454.7 650.4,454.5 652.3,453.2 C654.1,451.9 656.6,451.1 658.3,450.6 C660.0,450.1 661.0,449.4 662.3,450.2 C663.6,451.0 665.0,453.9 666.3,455.2 C667.7,456.5 668.8,458.2 670.3,458.2 C671.8,458.2 673.8,456.4 675.4,455.2 C676.9,454.0 677.9,453.0 679.4,451.2 C680.9,449.3 682.7,445.5 684.4,444.2 C686.1,442.8 687.9,443.4 689.4,443.2 C690.9,442.9 692.2,443.7 693.4,442.8 C694.6,441.9 695.7,438.9 696.8,437.7 C697.9,436.5 699.1,435.7 700.2,435.5 C701.3,435.3 702.5,436.2 703.6,436.6 C704.7,437.0 705.9,438.7 707.0,437.7 C708.1,436.7 709.5,433.0 710.4,430.4 C711.3,427.8 711.7,423.8 712.6,421.9 C713.5,420.0 714.7,419.7 716.0,419.3 C717.3,418.9 719.3,419.0 720.6,419.3 C721.9,419.6 722.9,419.7 724.0,421.3 C725.1,422.9 726.1,426.1 727.4,428.7 C728.7,431.2 730.4,434.5 731.9,436.6 C733.4,438.7 734.5,441.3 736.4,441.1 C738.3,440.9 741.1,436.7 743.2,435.5 C745.3,434.3 747.0,433.8 748.9,434.0 C750.8,434.2 752.8,435.6 754.6,436.6 C756.5,437.6 758.3,438.7 760.0,439.7 C761.7,440.8 763.5,441.6 765.0,443.2 C766.5,444.7 767.7,447.6 769.0,449.2 C770.4,450.8 771.4,452.0 773.0,452.6 C774.7,453.2 777.4,453.5 779.1,452.6 C780.7,451.7 781.6,449.5 783.1,447.2 C784.6,444.8 786.3,440.2 788.1,438.5 C789.9,436.9 792.1,437.7 794.1,437.1 C796.1,436.6 797.8,435.8 800.1,435.1 C802.5,434.5 806.0,433.1 808.2,433.1 C810.3,433.1 811.7,434.4 813.2,435.1 C814.7,435.9 815.4,437.1 817.2,437.7 C819.0,438.4 822.1,438.6 824.2,439.1 C826.4,439.6 828.6,439.6 830.3,440.7 C831.9,441.9 832.9,444.0 834.3,446.2 C835.6,448.3 837.1,454.1 838.3,453.8 C839.5,453.5 840.3,447.8 841.3,444.2 C842.3,440.5 843.5,434.5 844.3,432.1 C845.1,429.8 845.5,429.3 846.3,430.1 C847.2,430.9 848.2,435.1 849.3,437.1 C850.5,439.2 851.7,441.9 853.3,442.6 C855.0,443.2 857.4,441.1 859.4,441.1 C861.4,441.2 863.5,442.4 865.4,442.8 C867.2,443.1 868.7,443.4 870.4,443.2 C872.1,442.9 873.9,442.7 875.4,441.1 C876.9,439.6 878.3,435.8 879.4,434.1 C880.6,432.5 880.9,431.4 882.4,431.1 C884.0,430.8 886.8,431.3 888.5,432.5 C890.1,433.7 891.3,435.6 892.5,438.1 C893.7,440.7 894.2,445.9 895.5,447.8 C896.8,449.6 898.8,449.4 900.5,449.2 C902.2,448.9 904.2,447.8 905.5,446.2 C906.9,444.5 907.6,441.1 908.5,439.1 C909.4,437.2 909.9,434.0 910.9,434.5 C912.0,435.0 913.3,439.1 914.6,442.2 C915.8,445.2 917.2,449.4 918.6,452.6 C919.9,455.8 921.4,459.3 922.6,461.2 C923.8,463.2 924.4,464.2 925.6,464.2 C926.8,464.2 928.1,462.3 929.6,461.2 C931.1,460.2 932.8,458.6 934.6,457.8 C936.5,457.0 938.3,456.7 940.7,456.2 C943.0,455.7 946.2,455.2 948.7,454.8 C951.2,454.4 954.5,454.0 955.7,453.8" fill="none" stroke="#808080" stroke-width="2.0" stroke-linejoin="round" stroke-linecap="round"/>
<path d="M580.4,462.2 C581.2,461.1 583.4,457.0 585.0,455.2 C586.6,453.4 588.2,452.0 590.0,451.2 C591.9,450.4 594.1,450.3 596.1,450.6 C598.1,450.8 599.9,451.3 602.1,452.6 C604.3,453.9 607.3,455.9 609.1,458.2 C611.0,460.5 611.8,462.9 613.1,466.2 C614.5,469.6 615.5,475.8 617.1,478.3 C618.8,480.8 621.2,481.6 623.2,481.3 C625.2,481.0 627.3,478.0 629.2,476.3 C631.0,474.6 632.5,472.6 634.2,471.3 C635.9,469.9 637.7,468.1 639.2,468.2 C640.7,468.4 641.9,470.3 643.2,472.3 C644.6,474.3 645.9,477.3 647.3,480.3 C648.6,483.3 650.1,487.9 651.3,490.3 C652.4,492.7 653.1,494.4 654.3,494.7 C655.4,495.1 657.0,493.6 658.3,492.3 C659.6,491.1 661.0,489.3 662.3,487.3 C663.6,485.3 665.0,483.1 666.3,480.3 C667.7,477.4 669.2,473.6 670.3,470.3 C671.5,466.9 672.3,463.3 673.3,460.2 C674.4,457.1 675.9,453.2 676.4,451.8" fill="none" stroke="#C00000" stroke-width="2.0" stroke-linejoin="round" stroke-linecap="round"/>
</svg>
</body></html>
